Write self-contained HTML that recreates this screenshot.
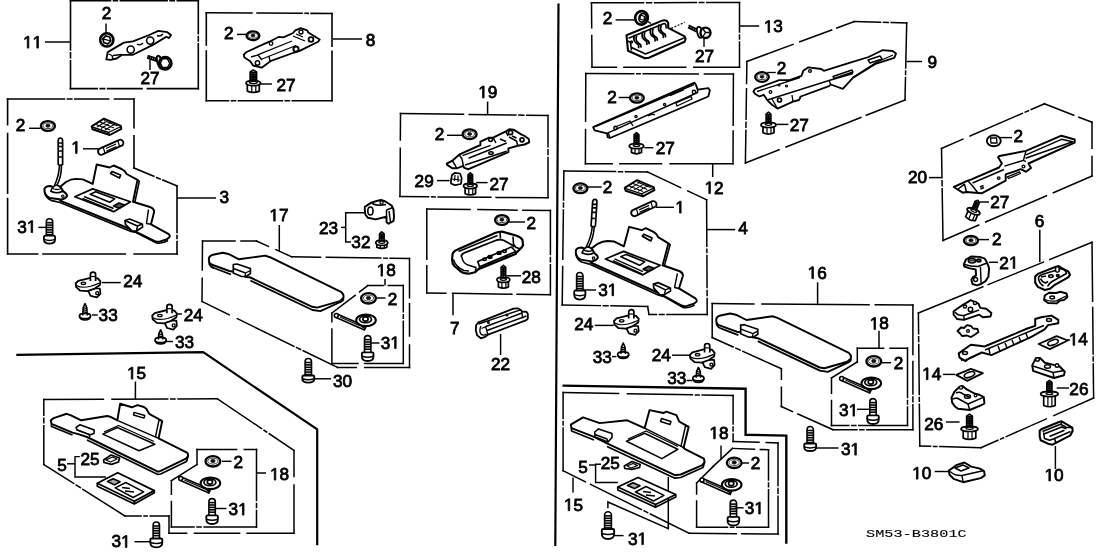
<!DOCTYPE html><html><head><meta charset="utf-8"><style>html,body{margin:0;padding:0;background:#fff;overflow:hidden;-webkit-font-smoothing:antialiased}svg{display:block}svg{will-change:transform}text{font-family:"Liberation Sans",sans-serif;font-size:17.2px;font-weight:normal;fill:#000;stroke:#000;stroke-width:0.8px}.g1{fill:#000;stroke:#000;stroke-width:95.256}</style></head><body>
<svg width="1108" height="553" viewBox="0 0 1108 553">
<rect width="1108" height="553" fill="#fff"/>
<g fill="none" stroke="#000" stroke-linejoin="miter" stroke-linecap="butt">
<path d="M558.5,3.5 L555.3,546.0" stroke-width="2.2"/>
<path d="M70.5,0.8 L198.3,0.8" stroke-width="1.6" stroke-linecap="square" stroke-dasharray="40.0 3.0 3.9 3.0 46.7 3.0 4.2 3.0 26.0 0.01 1000"/>
<path d="M198.3,0.8 L198.3,88.6" stroke-width="1.6" stroke-linecap="square" stroke-dasharray="32.8 3.0 4.3 3.0 49.7 0.01 1000"/>
<path d="M198.3,88.6 L70.5,88.6" stroke-width="1.6" stroke-linecap="square" stroke-dasharray="50.9 5.4 34.4 3.0 4.4 3.0 31.8 0.01 1000"/>
<path d="M70.5,88.6 L70.5,0.8" stroke-width="1.6" stroke-linecap="square" stroke-dasharray="27.8 3.0 4.9 3.0 54.1 0.01 1000"/>
<path d="M45.0,42.0 L70.5,42.0" stroke-width="1.5"/>
<path d="M106.0,23.5 L106.0,33.0" stroke-width="1.45"/>
<path d="M150.0,60.0 L150.0,70.0" stroke-width="1.45"/>
<path d="M206.3,12.7 L332.0,13.5" stroke-width="1.6" stroke-linecap="square" stroke-dasharray="45.7 5.1 45.0 3.0 3.1 3.0 25.9 0.01 1000"/>
<path d="M332.0,13.5 L332.0,100.8" stroke-width="1.6" stroke-linecap="square" stroke-dasharray="32.8 5.1 54.3 0.01 1000"/>
<path d="M332.0,100.8 L206.3,100.8" stroke-width="1.6" stroke-linecap="square" stroke-dasharray="39.7 3.0 4.0 3.0 43.8 3.0 4.0 3.0 27.2 0.01 1000"/>
<path d="M206.3,100.8 L206.3,12.7" stroke-width="1.6" stroke-linecap="square" stroke-dasharray="49.8 6.1 37.2 0.01 1000"/>
<path d="M333.0,39.0 L362.0,39.0" stroke-width="1.5"/>
<path d="M237.0,34.4 L248.0,34.4" stroke-width="1.45"/>
<path d="M260.5,84.0 L272.0,84.0" stroke-width="1.45"/>
<path d="M7.6,99.0 L134.0,99.0" stroke-width="1.6" stroke-linecap="square" stroke-dasharray="56.8 3.0 4.4 3.0 33.8 5.9 24.4 0.01 1000"/>
<path d="M134.0,99.0 L134.0,168.0" stroke-width="1.6" stroke-linecap="square" stroke-dasharray="28.7 8.1 37.3 0.01 1000"/>
<path d="M134.0,168.0 L177.0,186.0" stroke-width="1.6" stroke-linecap="square" stroke-dasharray="21.5 3.0 3.8 3.0 20.4 0.01 1000"/>
<path d="M177.0,186.0 L177.0,254.0" stroke-width="1.6" stroke-linecap="square" stroke-dasharray="46.5 3.0 3.0 3.0 17.5 0.01 1000"/>
<path d="M177.0,254.0 L7.6,254.0" stroke-width="1.6" stroke-linecap="square" stroke-dasharray="42.8 8.9 82.3 5.3 35.1 0.01 1000"/>
<path d="M7.6,254.0 L7.6,99.0" stroke-width="1.6" stroke-linecap="square" stroke-dasharray="55.4 5.3 59.8 8.9 30.6 0.01 1000"/>
<path d="M177.0,198.0 L216.0,198.0" stroke-width="1.5"/>
<path d="M29.0,128.3 L40.7,128.3" stroke-width="1.45"/>
<path d="M83.0,148.8 L100.0,148.8" stroke-width="1.45"/>
<path d="M38.3,227.4 L46.2,227.4" stroke-width="1.45"/>
<path d="M202.5,241.0 L256.4,241.0" stroke-width="1.5" stroke-linecap="square" stroke-dasharray="32.5 6.0 20.4 0.01 1000"/>
<path d="M256.4,241.0 L291.7,256.8" stroke-width="1.5" stroke-linecap="square" stroke-dasharray="13.2 8.2 22.3 0.01 1000"/>
<path d="M291.7,256.8 L409.5,258.5" stroke-width="1.5" stroke-linecap="square" stroke-dasharray="28.8 5.8 54.5 3.0 3.3 3.0 24.5 0.01 1000"/>
<path d="M409.5,258.5 L409.5,367.4" stroke-width="1.5" stroke-linecap="square" stroke-dasharray="39.3 5.9 32.3 8.9 27.5 0.01 1000"/>
<path d="M409.5,367.4 L337.4,367.4" stroke-width="1.5" stroke-linecap="square" stroke-dasharray="44.8 8.5 23.8 0.01 1000"/>
<path d="M337.4,367.4 L202.0,301.5" stroke-width="1.5" stroke-linecap="square" stroke-dasharray="38.0 3.0 4.3 3.0 63.0 9.0 35.3 0.01 1000"/>
<path d="M202.0,301.5 L202.5,241.0" stroke-width="1.5" stroke-linecap="square" stroke-dasharray="23.3 8.1 34.1 0.01 1000"/>
<path d="M279.3,225.0 L279.3,251.0" stroke-width="1.5"/>
<path d="M367.8,285.6 L403.3,285.6" stroke-width="1.5" stroke-linecap="square" stroke-dasharray="15.3 5.3 19.9 0.01 1000"/>
<path d="M403.3,285.6 L403.3,363.6" stroke-width="1.5" stroke-linecap="square" stroke-dasharray="26.2 3.0 3.5 3.0 47.3 0.01 1000"/>
<path d="M403.3,363.6 L331.9,363.6" stroke-width="1.5" stroke-linecap="square" stroke-dasharray="38.6 6.8 31.0 0.01 1000"/>
<path d="M331.9,363.6 L331.9,313.0" stroke-width="1.5" stroke-linecap="square" stroke-dasharray="34.6 7.3 13.7 0.01 1000"/>
<path d="M331.9,313.0 L367.8,285.6" stroke-width="1.5" stroke-linecap="square" stroke-dasharray="29.2 5.6 15.3 0.01 1000"/>
<path d="M385.0,279.0 L385.0,285.6" stroke-width="1.5"/>
<path d="M376.7,298.0 L385.5,298.0" stroke-width="1.45"/>
<path d="M371.0,343.0 L379.5,343.0" stroke-width="1.45"/>
<path d="M314.6,378.8 L331.0,378.8" stroke-width="1.45"/>
<path d="M341.0,227.4 L345.7,227.4" stroke-width="1.45"/>
<path d="M364.4,212.8 L345.7,212.8 L345.7,242.0 L351.0,242.0" stroke-width="1.5"/>
<path d="M400.5,113.5 L548.0,115.5" stroke-width="1.5" stroke-linecap="square" stroke-dasharray="63.0 5.8 46.6 3.0 4.9 3.0 26.3 0.01 1000"/>
<path d="M548.0,115.5 L548.0,197.8" stroke-width="1.5" stroke-linecap="square" stroke-dasharray="31.2 3.0 4.8 3.0 45.4 0.01 1000"/>
<path d="M548.0,197.8 L400.0,196.6" stroke-width="1.5" stroke-linecap="square" stroke-dasharray="51.9 5.2 52.8 3.0 3.5 3.0 33.7 0.01 1000"/>
<path d="M400.0,196.6 L400.5,113.5" stroke-width="1.5" stroke-linecap="square" stroke-dasharray="48.4 8.3 31.5 0.01 1000"/>
<path d="M487.6,101.6 L487.6,114.3" stroke-width="1.5"/>
<path d="M447.0,135.3 L462.0,135.3" stroke-width="1.45"/>
<path d="M437.0,180.6 L449.6,180.6" stroke-width="1.45"/>
<path d="M476.0,182.6 L487.6,182.6" stroke-width="1.45"/>
<path d="M426.8,208.9 L550.4,210.6" stroke-width="1.5" stroke-linecap="square" stroke-dasharray="43.2 7.9 39.1 5.9 32.5 0.01 1000"/>
<path d="M550.4,210.6 L550.4,294.7" stroke-width="1.5" stroke-linecap="square" stroke-dasharray="44.0 3.0 4.2 3.0 34.8 0.01 1000"/>
<path d="M550.4,294.7 L426.8,293.0" stroke-width="1.5" stroke-linecap="square" stroke-dasharray="33.4 5.1 59.4 6.8 24.0 0.01 1000"/>
<path d="M426.8,293.0 L426.8,208.9" stroke-width="1.5" stroke-linecap="square" stroke-dasharray="27.3 6.5 55.4 0.01 1000"/>
<path d="M453.0,294.0 L453.0,315.3" stroke-width="1.5"/>
<path d="M508.0,222.0 L525.0,222.0" stroke-width="1.45"/>
<path d="M506.4,275.8 L521.0,275.8" stroke-width="1.45"/>
<path d="M500.6,334.0 L500.6,355.0" stroke-width="1.45"/>
<path d="M101.8,282.6 L120.8,282.6" stroke-width="1.45"/>
<path d="M92.0,315.0 L97.7,315.0" stroke-width="1.45"/>
<path d="M176.0,314.0 L182.0,314.0" stroke-width="1.45"/>
<path d="M166.0,341.5 L173.0,341.5" stroke-width="1.45"/>
<path d="M16.3,354.9 L203.2,352.2 L317.2,429.4 L317.2,545.2" stroke-width="2.2"/>
<path d="M135.4,381.6 L135.4,399.0" stroke-width="1.5"/>
<path d="M43.8,399.4 L217.4,398.8" stroke-width="1.5" stroke-linecap="square" stroke-dasharray="59.6 8.6 55.7 3.0 4.3 3.0 44.5 0.01 1000"/>
<path d="M217.4,398.8 L294.0,450.4" stroke-width="1.5" stroke-linecap="square" stroke-dasharray="53.2 3.0 3.3 3.0 34.8 0.01 1000"/>
<path d="M294.0,450.4 L294.0,533.3" stroke-width="1.5" stroke-linecap="square" stroke-dasharray="26.0 8.6 53.2 0.01 1000"/>
<path d="M294.0,533.3 L169.0,533.3" stroke-width="1.5" stroke-linecap="square" stroke-dasharray="46.9 7.5 45.1 7.9 22.5 0.01 1000"/>
<path d="M169.0,533.3 L169.0,516.0" stroke-width="1.5" stroke-linecap="square"/>
<path d="M169.0,516.0 L125.0,516.0" stroke-width="1.5" stroke-linecap="square" stroke-dasharray="18.8 3.0 3.2 3.0 21.0 0.01 1000"/>
<path d="M125.0,516.0 L43.8,464.5" stroke-width="1.5" stroke-linecap="square" stroke-dasharray="49.9 3.0 4.8 3.0 40.5 0.01 1000"/>
<path d="M43.8,464.5 L43.8,399.4" stroke-width="1.5" stroke-linecap="square" stroke-dasharray="38.7 3.0 4.6 3.0 20.8 0.01 1000"/>
<path d="M197.0,449.4 L256.5,449.4" stroke-width="1.5" stroke-linecap="square" stroke-dasharray="39.6 7.7 17.1 0.01 1000"/>
<path d="M256.5,449.4 L256.5,527.0" stroke-width="1.5" stroke-linecap="square" stroke-dasharray="51.2 3.0 3.8 3.0 21.5 0.01 1000"/>
<path d="M256.5,527.0 L171.4,527.0" stroke-width="1.5" stroke-linecap="square" stroke-dasharray="52.4 3.0 4.1 3.0 27.5 0.01 1000"/>
<path d="M171.4,527.0 L171.4,480.7" stroke-width="1.5" stroke-linecap="square" stroke-dasharray="25.5 7.3 18.5 0.01 1000"/>
<path d="M171.4,480.7 L197.0,464.5" stroke-width="1.5" stroke-linecap="square"/>
<path d="M197.0,464.5 L197.0,449.4" stroke-width="1.5" stroke-linecap="square"/>
<path d="M256.5,473.0 L266.0,473.0" stroke-width="1.5"/>
<path d="M222.0,461.3 L231.5,461.3" stroke-width="1.45"/>
<path d="M216.0,508.5 L226.5,508.5" stroke-width="1.45"/>
<path d="M67.0,463.8 L75.0,463.8" stroke-width="1.45"/>
<path d="M79.8,456.6 L75.0,456.6 L75.0,477.0 L106.0,477.0" stroke-width="1.45"/>
<path d="M134.5,541.7 L150.0,541.7" stroke-width="1.45"/>
<path d="M591.5,2.8 L739.5,2.4" stroke-width="1.5" stroke-linecap="square" stroke-dasharray="52.1 3.0 5.0 3.0 41.7 3.0 4.5 3.0 37.8 0.01 1000"/>
<path d="M739.5,2.4 L739.5,67.2" stroke-width="1.5" stroke-linecap="square" stroke-dasharray="29.5 3.0 4.2 3.0 30.1 0.01 1000"/>
<path d="M739.5,67.2 L592.0,67.2" stroke-width="1.5" stroke-linecap="square" stroke-dasharray="45.7 8.0 61.9 7.4 29.5 0.01 1000"/>
<path d="M592.0,67.2 L591.5,2.8" stroke-width="1.5" stroke-linecap="square" stroke-dasharray="31.7 7.8 29.9 0.01 1000"/>
<path d="M739.5,26.0 L759.2,26.0" stroke-width="1.5"/>
<path d="M615.6,19.9 L634.5,19.9" stroke-width="1.45"/>
<path d="M704.0,38.8 L704.0,46.7" stroke-width="1.45"/>
<path d="M585.8,73.5 L733.4,74.0" stroke-width="1.5" stroke-linecap="square" stroke-dasharray="47.9 3.0 3.5 3.0 55.0 6.2 34.0 0.01 1000"/>
<path d="M733.4,74.0 L733.0,163.7" stroke-width="1.5" stroke-linecap="square" stroke-dasharray="51.2 5.7 37.8 0.01 1000"/>
<path d="M733.0,163.7 L585.4,163.7" stroke-width="1.5" stroke-linecap="square" stroke-dasharray="62.9 8.6 41.6 7.7 31.9 0.01 1000"/>
<path d="M585.4,163.7 L585.8,73.5" stroke-width="1.5" stroke-linecap="square" stroke-dasharray="34.2 8.2 52.8 0.01 1000"/>
<path d="M712.7,163.7 L712.7,177.0" stroke-width="1.5"/>
<path d="M618.6,97.5 L630.5,97.5" stroke-width="1.45"/>
<path d="M644.4,147.7 L653.4,147.7" stroke-width="1.45"/>
<path d="M746.9,61.5 L854.4,21.5" stroke-width="1.5" stroke-linecap="square" stroke-dasharray="49.2 7.3 33.9 5.5 23.8 0.01 1000"/>
<path d="M854.4,21.5 L906.7,23.0" stroke-width="1.5" stroke-linecap="square" stroke-dasharray="26.1 3.0 4.7 3.0 20.5 0.01 1000"/>
<path d="M906.7,23.0 L905.0,100.0" stroke-width="1.5" stroke-linecap="square" stroke-dasharray="45.0 3.0 3.6 3.0 27.4 0.01 1000"/>
<path d="M905.0,100.0 L745.4,163.0" stroke-width="1.5" stroke-linecap="square" stroke-dasharray="41.6 5.9 80.4 7.5 41.2 0.01 1000"/>
<path d="M745.4,163.0 L746.9,61.5" stroke-width="1.5" stroke-linecap="square" stroke-dasharray="32.8 3.0 5.0 3.0 30.5 5.3 27.0 0.01 1000"/>
<path d="M906.7,61.5 L922.0,61.5" stroke-width="1.5"/>
<path d="M776.0,124.4 L788.4,124.4" stroke-width="1.45"/>
<path d="M941.5,148.4 L1044.4,103.8" stroke-width="1.5" stroke-linecap="square" stroke-dasharray="23.3 7.8 57.1 3.0 3.6 3.0 19.2 0.01 1000"/>
<path d="M1044.4,103.8 L1092.0,122.3" stroke-width="1.5" stroke-linecap="square" stroke-dasharray="31.5 5.5 19.0 0.01 1000"/>
<path d="M1092.0,122.3 L1092.0,176.0" stroke-width="1.5" stroke-linecap="square" stroke-dasharray="25.9 8.3 24.5 0.01 1000"/>
<path d="M1092.0,176.0 L943.0,240.5" stroke-width="1.5" stroke-linecap="square" stroke-dasharray="42.1 7.5 66.3 7.5 43.9 0.01 1000"/>
<path d="M943.0,240.5 L941.5,148.4" stroke-width="1.5" stroke-linecap="square" stroke-dasharray="51.8 3.0 4.9 3.0 34.4 0.01 1000"/>
<path d="M929.0,177.6 L941.5,177.6" stroke-width="1.5"/>
<path d="M1000.0,137.6 L1012.0,137.6" stroke-width="1.45"/>
<path d="M978.0,202.0 L989.0,202.0" stroke-width="1.45"/>
<path d="M978.3,239.6 L989.0,239.6" stroke-width="1.45"/>
<path d="M918.4,313.0 L1092.0,242.3" stroke-width="1.5" stroke-linecap="square" stroke-dasharray="69.6 5.7 59.7 6.9 50.6 0.01 1000"/>
<path d="M1092.0,242.3 L1093.6,398.0" stroke-width="1.5" stroke-linecap="square" stroke-dasharray="58.9 6.4 46.5 3.0 4.0 3.0 38.9 0.01 1000"/>
<path d="M1093.6,398.0 L981.0,447.7" stroke-width="1.5" stroke-linecap="square" stroke-dasharray="43.5 8.2 43.8 3.0 3.2 3.0 23.4 0.01 1000"/>
<path d="M981.0,447.7 L919.8,446.0" stroke-width="1.5" stroke-linecap="square" stroke-dasharray="41.2 3.0 3.3 3.0 15.8 0.01 1000"/>
<path d="M919.8,446.0 L918.4,313.0" stroke-width="1.5" stroke-linecap="square" stroke-dasharray="41.7 3.0 3.8 3.0 50.0 3.0 4.8 3.0 25.8 0.01 1000"/>
<path d="M1039.8,229.8 L1039.8,262.0" stroke-width="1.5"/>
<path d="M989.0,262.3 L998.0,262.3" stroke-width="1.45"/>
<path d="M1067.0,340.0 L1070.0,340.0" stroke-width="1.45"/>
<path d="M943.0,374.4 L955.0,374.4" stroke-width="1.45"/>
<path d="M1056.7,388.0 L1069.0,388.0" stroke-width="1.45"/>
<path d="M946.0,422.0 L959.5,422.0" stroke-width="1.45"/>
<path d="M934.7,471.5 L948.0,471.5" stroke-width="1.45"/>
<path d="M1055.4,446.0 L1055.4,469.0" stroke-width="1.45"/>
<path d="M563.9,171.0 L647.4,172.0" stroke-width="1.5" stroke-linecap="square" stroke-dasharray="51.7 3.0 3.9 3.0 26.9 0.01 1000"/>
<path d="M647.4,172.0 L706.6,199.8" stroke-width="1.5" stroke-linecap="square" stroke-dasharray="36.7 7.9 25.9 0.01 1000"/>
<path d="M706.6,199.8 L707.2,314.5" stroke-width="1.5" stroke-linecap="square" stroke-dasharray="46.4 3.0 3.4 3.0 31.8 3.0 5.0 3.0 21.1 0.01 1000"/>
<path d="M707.2,314.5 L649.0,314.5" stroke-width="1.5" stroke-linecap="square" stroke-dasharray="40.2 3.0 4.6 3.0 12.4 0.01 1000"/>
<path d="M649.0,314.5 L647.6,306.4" stroke-width="1.5" stroke-linecap="square"/>
<path d="M647.6,306.4 L562.2,305.0" stroke-width="1.5" stroke-linecap="square" stroke-dasharray="36.6 3.0 4.7 3.0 43.1 0.01 1000"/>
<path d="M562.2,305.0 L563.9,171.0" stroke-width="1.5" stroke-linecap="square" stroke-dasharray="38.5 7.2 49.2 3.0 4.0 3.0 34.1 0.01 1000"/>
<path d="M706.6,229.6 L735.2,229.6" stroke-width="1.5"/>
<path d="M587.7,187.0 L601.7,187.0" stroke-width="1.45"/>
<path d="M656.0,207.3 L674.0,207.3" stroke-width="1.45"/>
<path d="M583.0,290.0 L596.0,290.0" stroke-width="1.45"/>
<path d="M594.7,325.4 L613.7,325.4" stroke-width="1.45"/>
<path d="M612.0,356.6 L616.4,356.6" stroke-width="1.45"/>
<path d="M672.0,355.2 L689.6,355.2" stroke-width="1.45"/>
<path d="M686.5,380.5 L692.5,380.5" stroke-width="1.45"/>
<path d="M712.2,303.6 L912.9,305.0" stroke-width="1.5" stroke-linecap="square" stroke-dasharray="41.6 8.2 107.0 6.3 42.6 0.01 1000"/>
<path d="M912.9,305.0 L912.9,429.7" stroke-width="1.5" stroke-linecap="square" stroke-dasharray="49.5 7.1 32.5 3.0 4.7 3.0 30.0 0.01 1000"/>
<path d="M912.9,429.7 L833.0,429.7" stroke-width="1.5" stroke-linecap="square" stroke-dasharray="46.0 3.0 4.0 3.0 28.9 0.01 1000"/>
<path d="M833.0,429.7 L781.4,406.6" stroke-width="1.5" stroke-linecap="square" stroke-dasharray="38.4 5.9 17.2 0.01 1000"/>
<path d="M781.4,406.6 L781.4,368.7" stroke-width="1.5" stroke-linecap="square" stroke-dasharray="19.4 7.9 15.6 0.01 1000"/>
<path d="M781.4,368.7 L712.2,337.5" stroke-width="1.5" stroke-linecap="square" stroke-dasharray="42.2 3.0 4.7 3.0 28.1 0.01 1000"/>
<path d="M712.2,337.5 L712.2,303.6" stroke-width="1.5" stroke-linecap="square"/>
<path d="M817.6,282.3 L817.6,303.8" stroke-width="1.5"/>
<path d="M857.3,348.3 L907.5,348.3" stroke-width="1.5" stroke-linecap="square" stroke-dasharray="26.3 6.5 22.4 0.01 1000"/>
<path d="M907.5,348.3 L907.5,425.6" stroke-width="1.5" stroke-linecap="square" stroke-dasharray="49.3 3.0 3.4 3.0 23.6 0.01 1000"/>
<path d="M907.5,425.6 L831.5,425.6" stroke-width="1.5" stroke-linecap="square" stroke-dasharray="48.7 3.0 4.0 3.0 22.3 0.01 1000"/>
<path d="M831.5,425.6 L831.5,378.0" stroke-width="1.5" stroke-linecap="square" stroke-dasharray="25.2 7.1 20.3 0.01 1000"/>
<path d="M831.5,378.0 L857.3,361.9" stroke-width="1.5" stroke-linecap="square"/>
<path d="M857.3,361.9 L857.3,348.3" stroke-width="1.5" stroke-linecap="square"/>
<path d="M879.0,330.7 L879.0,348.3" stroke-width="1.5"/>
<path d="M881.7,362.7 L891.2,362.7" stroke-width="1.45"/>
<path d="M857.0,409.3 L869.5,409.3" stroke-width="1.45"/>
<path d="M816.0,448.0 L838.5,448.0" stroke-width="1.45"/>
<path d="M562.5,385.6 L745.6,388.8 L745.6,434.8 L786.3,435.6 L786.3,543.8" stroke-width="2.4"/>
<path d="M563.1,392.5 L733.1,395.6" stroke-width="1.5" stroke-linecap="square" stroke-dasharray="55.4 8.9 65.0 3.0 3.8 3.0 35.9 0.01 1000"/>
<path d="M733.1,395.6 L733.1,441.5" stroke-width="1.5" stroke-linecap="square" stroke-dasharray="28.5 3.0 4.0 3.0 12.4 0.01 1000"/>
<path d="M733.1,441.5 L778.0,442.9" stroke-width="1.5" stroke-linecap="square" stroke-dasharray="25.9 7.2 16.9 0.01 1000"/>
<path d="M778.0,442.9 L778.0,534.1" stroke-width="1.5" stroke-linecap="square" stroke-dasharray="42.5 3.0 4.8 3.0 42.9 0.01 1000"/>
<path d="M778.0,534.1 L689.2,533.3" stroke-width="1.5" stroke-linecap="square" stroke-dasharray="36.2 5.5 52.1 0.01 1000"/>
<path d="M689.2,533.3 L563.1,470.7" stroke-width="1.5" stroke-linecap="square" stroke-dasharray="43.4 3.0 4.0 3.0 56.7 5.8 30.0 0.01 1000"/>
<path d="M563.1,470.7 L563.1,392.5" stroke-width="1.5" stroke-linecap="square" stroke-dasharray="42.8 3.0 3.3 3.0 31.2 0.01 1000"/>
<path d="M573.0,477.5 L573.0,492.4" stroke-width="1.45"/>
<path d="M732.5,448.4 L768.5,449.8" stroke-width="1.5" stroke-linecap="square" stroke-dasharray="22.0 5.8 13.2 0.01 1000"/>
<path d="M768.5,449.8 L768.5,527.2" stroke-width="1.5" stroke-linecap="square" stroke-dasharray="30.3 3.0 3.6 3.0 42.5 0.01 1000"/>
<path d="M768.5,527.2 L696.6,527.2" stroke-width="1.5" stroke-linecap="square" stroke-dasharray="31.8 3.0 3.2 3.0 35.9 0.01 1000"/>
<path d="M696.6,527.2 L696.6,483.0" stroke-width="1.5" stroke-linecap="square" stroke-dasharray="26.2 7.0 16.0 0.01 1000"/>
<path d="M696.6,483.0 L713.2,466.4" stroke-width="1.5" stroke-linecap="square"/>
<path d="M713.2,466.4 L732.5,448.4" stroke-width="1.5" stroke-linecap="square"/>
<path d="M721.0,445.6 L721.0,459.4" stroke-width="1.45"/>
<path d="M740.8,463.0 L749.0,463.0" stroke-width="1.45"/>
<path d="M735.5,507.8 L743.6,507.8" stroke-width="1.45"/>
<path d="M589.0,465.0 L595.6,465.0" stroke-width="1.45"/>
<path d="M601.0,464.3 L595.6,464.3 L595.6,482.5 L617.8,482.5" stroke-width="1.45"/>
<path d="M614.5,535.6 L623.6,535.6" stroke-width="1.45"/>
<path d="M607.9,508.3 L607.9,502.0 L668.3,528.6 L668.3,477.0" stroke-width="1.5"/>
</g>
<g fill="none" stroke="#000" stroke-width="1.2" stroke-linejoin="round">
<circle cx="106.8" cy="39.9" r="6.6" fill="#fff" stroke-width="2.56"/>
<path d="M110.8,41.0 L107.9,43.9 L103.9,42.8 L102.8,38.8 L105.7,35.9 L109.7,37.0 Z" stroke-width="1.71"/>
<path d="M110.8,41.0 L102.8,38.8" stroke-width="1.22"/>
<path d="M106.3,59.4 L107.7,52.1 L123.9,42.6 L133.0,41.3 L149.2,35.0 L158.3,30.9 L167.3,32.2 L171.0,35.0 L169.1,38.1 L166.4,36.8 L152.9,44.9 L133.0,54.8 L122.1,54.8 L116.7,58.5 L110.4,59.8 Z" stroke-width="1.83" fill="#fff"/>
<path d="M108.5,54 L112,55.5 L113,59 M113,55.5 L122,54.5" stroke-width="1.34"/>
<circle cx="130.7" cy="49.6" r="3.6" stroke-width="1.59"/><circle cx="150.2" cy="40.6" r="3.6" stroke-width="1.59"/>
<path d="M137,44 Q140,46 143,43 M157,35.5 Q160,37 163,34" stroke-width="1.46"/>
<path d="M148.3,55.8 L158.5,59 L157.5,61.6 L147.8,58.3 Z" stroke-width="1.59" fill="#fff"/>
<path d="M150,56.2 L149.3,58.8 M152,56.9 L151.3,59.5 M154,57.5 L153.3,60.1 M156,58.2 L155.3,60.8" stroke-width="1.59"/>
<ellipse cx="159.8" cy="62.2" rx="2.4" ry="6.6" transform="rotate(-18 159.8 62.2)" fill="#fff" stroke-width="1.95"/>
<circle cx="165.2" cy="63.2" r="6.3" fill="#fff" stroke-width="2.44"/>
<path d="M162.5,58.5 L167.5,58.8 L169.8,63.3 L167.5,67.6 L162.5,67.6 L160.3,63.2 Z" stroke-width="1.46"/>
<ellipse cx="253.0" cy="35.8" rx="6.4" ry="4.4" fill="#fff" stroke-width="2.32"/>
<ellipse cx="253.0" cy="35.6" rx="4.5" ry="2.6" stroke-width="0.98" stroke="#444"/>
<ellipse cx="253.0" cy="35.5" rx="1.9" ry="1.4" fill="#111" stroke-width="0.61"/>
<path d="M243.8,54.7 L246.5,52.0 L269.3,41.7 L279.0,36.8 L283.4,37.4 L293.1,33.0 L295.3,30.3 L300.7,28.1 L307.2,30.3 L308.3,32.5 L319.7,39.5 L318.1,41.7 L299.7,50.9 L294.2,52.5 L270.4,61.2 L261.7,67.7 L253.0,65.5 L250.3,61.2 L244.3,57.4 Z" stroke-width="1.83" fill="#fff"/>
<path d="M258.4,54.7 L292,41 M262,59 L296,45.5 M251,57 L258,55 L262,60 M270,61 L269,56" stroke-width="1.34"/>
<circle cx="257.5" cy="63" r="2.2" stroke-width="1.46"/><circle cx="271" cy="43.5" r="1.8" stroke-width="1.34"/><circle cx="301" cy="32" r="2" stroke-width="1.34"/>
<circle cx="296" cy="49" r="2.6" stroke-width="1.95"/><circle cx="311" cy="39.5" r="2.4" stroke-width="1.83"/>
<path d="M293,36 L305,41 M296,34 L303,37" stroke-width="1.34"/>
<path d="M250.1,80.5 V72.0 L253.3,70.0 L256.6,72.0 V80.5" stroke-width="1.59" fill="#fff"/>
<path d="M250.1,72.5 H256.6" stroke-width="1.83"/>
<path d="M250.1,74.3 H256.6" stroke-width="1.83"/>
<path d="M250.1,76.1 H256.6" stroke-width="1.83"/>
<path d="M250.1,77.9 H256.6" stroke-width="1.83"/>
<path d="M250.1,79.7 H256.6" stroke-width="1.83"/>
<path d="M253.3,72.0 V80.5" stroke-width="1.22"/>
<path d="M247.3,83.1 V91.1 Q253.3,93.6 259.3,91.1 V83.1" stroke-width="1.71" fill="#fff"/>
<path d="M251.8,84.1 V92.1 M255.8,84.1 V91.8" stroke-width="1.22"/>
<ellipse cx="253.3" cy="83.1" rx="7.3" ry="2.6" fill="#fff" stroke-width="1.71"/>
<ellipse cx="253.3" cy="82.5" rx="4.0" ry="1.1" stroke-width="1.22"/>
<ellipse cx="47.9" cy="126.0" rx="7.0" ry="4.9" fill="#fff" stroke-width="2.32"/>
<ellipse cx="47.9" cy="125.8" rx="4.9" ry="2.8" stroke-width="0.98" stroke="#444"/>
<ellipse cx="47.9" cy="125.7" rx="2.1" ry="1.6" fill="#111" stroke-width="0.61"/>
<path d="M91.6,126.4 L104.0,118.7 L120.8,125.9 L121.3,128.8 L109.8,135.0 L92.5,129.3 Z" stroke-width="1.95" fill="#fff"/>
<path d="M92,127 L108.5,132.5 L121,126.5 M108.5,132.5 L109.8,135" stroke-width="1.34"/>
<path d="M96,124.5 L110,130 M100,122 L114,128 M104,120.5 L117.5,126 M97,127 L107,121 M101,128.5 L111,122.5 M105,130 L115,124" stroke-width="1.10"/>
<path d="M100.2,148.4 L119.4,139.8 A3.3,3.3 0 0 1 122.7,145.1 L102.1,154.7 A3.3,3.3 0 0 1 100.2,148.4 Z" stroke-width="1.83" fill="#fff"/>
<path d="M103.3,147.3 L105,153.5 M118,141 L119.5,146.5 M106,148.5 L116,144 M106.5,151 L116.5,146.5" stroke-width="1.22"/>
<g id="visA"><path d="M59.9,186.9 L66,182 Q71,179 75.8,178.9 L82.8,179.4 L92.7,183.9 L96.7,164.5 L109.7,167.5 L113.6,165.5 L121.6,169 L124.6,171 L126.6,174 L137.5,179.9 L133,201.8 L150.7,207.3 Q154.5,209 154.1,212.1 L151,224.3 L168.3,233.8 Q170.5,236 169.5,237 L167,239.2 L158.8,241.9 L154.8,241.2 L137.1,232.4 L131.4,229.5 L60,200.6 L66.9,196 Z" fill="#fff" stroke-width="1.95"/><path d="M60,202.5 L131,231.5 L136,232.5 L156.5,243 Q162,244 168,240.5" stroke-width="1.59"/><path d="M137.5,179.9 L139.3,181.3 L134.8,202.3" stroke-width="1.59"/><path d="M74.8,196.8 L92.7,188.9 L130.5,201.8 L113.6,211.7 Z" stroke-width="1.71"/><path d="M90.2,194.3 L95.7,191.8 L114.6,198.8 L109.7,202.3 Z" stroke-width="1.59"/><path d="M84,196.5 L113.6,208.5 M82.5,198.3 L112.5,210.7" stroke-width="1.46"/><path d="M113.6,206 L119,203 L124.6,205 L119,208.2 Z" stroke-width="1.71" fill="#555"/><path d="M110.6,173.4 L112,171.5 L120.6,175 L119.5,178 Z" stroke-width="1.71"/><path d="M124.9,220.5 L129.5,219 L142.3,224 L142.6,227 L136.5,231 L132,230.8 L125.6,224.5 Z" fill="#fff" stroke-width="1.71"/><path d="M124.9,220.5 L137.5,226 L142.3,224 M137.5,226 L136.5,231" stroke-width="1.46"/><path d="M148.5,209.5 L146.5,223.5 L151,224.3" stroke-width="1.46"/><path d="M44.5,188.5 Q46,186 50,186 L53,186.9 L63.9,191.8 Q67.5,194 66.9,196 Q66,198.8 60.9,199.5 L50,198 Q45.2,196 44.5,191.5 Z" fill="#fff" stroke-width="1.95"/><path d="M44.8,192 Q45.5,198 51,200.3 L60,202.5" stroke-width="1.71"/><circle cx="62.8" cy="196.2" r="1.2" stroke-width="1.22"/><path d="M50.8,191.2 Q51.5,187.5 54.5,185.8 Q57,184.6 58.8,186 Q62.3,187.8 62.6,191.2 Q57,194.3 50.8,191.2 Z" fill="#fff" stroke-width="1.71"/><path d="M52.5,188.5 Q57,190.5 61.5,188.5" stroke-width="1.34"/><path d="M58.2,165 L58.2,141 Q58.2,138 60.4,138 Q62.6,138 62.6,141 L62.6,165" fill="#fff" stroke-width="1.71"/><path d="M58.2,143 H62.6 M58.2,146.5 H62.6 M58.2,151 H62.6 M58.2,157 H62.6 M58.2,165 H62.6" stroke-width="1.71"/><path d="M59.5,165 Q59,176 54.5,185.5 M61.5,165 Q61.5,177 57,185.2" stroke-width="1.59"/></g>
<path d="M46.3,235.7 V221.9 A3.2,3.2 0 0 1 52.7,221.9 V235.7" stroke-width="1.59"/>
<path d="M46.3,222.7 H52.7" stroke-width="1.59"/>
<path d="M46.3,225.1 H52.7" stroke-width="1.59"/>
<path d="M46.3,227.5 H52.7" stroke-width="1.59"/>
<path d="M46.3,229.9 H52.7" stroke-width="1.59"/>
<path d="M46.3,232.3 H52.7" stroke-width="1.59"/>
<path d="M46.3,234.7 H52.7" stroke-width="1.59"/>
<path d="M43.9,236.9 Q43.9,235.7 45.4,235.7 H53.6 Q55.1,235.7 55.1,236.9 V239.3 Q55.1,243.6 49.5,243.6 Q43.9,243.6 43.9,239.3 Z" stroke-width="1.83" fill="#fff"/>
<path d="M44.2,239.3 Q49.5,241.5 54.8,239.3" stroke-width="1.46"/>
<ellipse cx="469.6" cy="134.2" rx="7.0" ry="4.8" fill="#fff" stroke-width="2.32"/>
<ellipse cx="469.6" cy="134.0" rx="4.9" ry="2.8" stroke-width="0.98" stroke="#444"/>
<ellipse cx="469.6" cy="133.9" rx="2.1" ry="1.5" fill="#111" stroke-width="0.61"/>
<path d="M446.8,163.7 L452.3,160.7 L459.1,154.7 L480.4,145.0 L480.4,141.6 L486.3,139.0 L488.9,137.7 L493.1,137.7 L505.9,131.4 L509.3,129.2 L513.5,129.7 L521.2,134.3 L524.6,136.0 L528.8,139.0 L529.2,142.4 L524.6,144.5 L517.8,145.8 L508.4,148.4 L508.4,152.2 L468.5,169.2 L464.2,167.9 L463.4,165.8 L456.6,168.3 L452.3,168.3 L447.2,164.9 Z" stroke-width="1.95" fill="#fff"/>
<path d="M462.5,155.6 L490.6,145.4 M468.5,158.3 L506.7,143 M465.1,165 L506.7,151.3 M459.1,154.7 L462,159 L463.4,165.8 M452.3,160.7 L455,165 L456.6,168.3 M493.1,137.7 L496,143 M517.8,145.8 L516.5,141 L509,137 M505.9,131.4 L508,136" stroke-width="1.46"/>
<circle cx="490.6" cy="139.6" r="1.9" stroke-width="1.59"/><ellipse cx="491" cy="153" rx="2.2" ry="1.3" stroke-width="1.46"/><circle cx="510.5" cy="132.6" r="2.1" stroke-width="1.71"/><circle cx="522" cy="139.8" r="2" stroke-width="1.71"/>
<path d="M500,139 L506,141.5 M512,136 L516.5,138" stroke-width="1.83"/>
<path d="M451,180 L452,175 L455,172.8 L460,173.5 L461.7,178 L461,184 L455,185.2 L451,183.5 Z" stroke-width="1.71" fill="#fff"/>
<path d="M455,175 L454.5,181 M458,175.5 L458,182 M451.5,179 L460.5,180" stroke-width="1.22"/>
<path d="M468.0,183.4 V174.8 L470.3,172.8 L472.6,174.8 V183.4" stroke-width="1.59" fill="#fff"/>
<path d="M468.0,175.3 H472.6" stroke-width="1.83"/>
<path d="M468.0,177.1 H472.6" stroke-width="1.83"/>
<path d="M468.0,178.9 H472.6" stroke-width="1.83"/>
<path d="M468.0,180.7 H472.6" stroke-width="1.83"/>
<path d="M468.0,182.5 H472.6" stroke-width="1.83"/>
<path d="M470.3,174.8 V183.4" stroke-width="1.22"/>
<path d="M465.1,186.0 V193.7 Q470.3,196.2 475.6,193.7 V186.0" stroke-width="1.71" fill="#fff"/>
<path d="M468.8,187.0 V194.7 M472.8,187.0 V194.4" stroke-width="1.22"/>
<ellipse cx="470.3" cy="186.0" rx="6.8" ry="2.6" fill="#fff" stroke-width="1.71"/>
<ellipse cx="470.3" cy="185.4" rx="3.1" ry="1.1" stroke-width="1.22"/>
<path d="M364.8,206.9 L371.3,202.6 L376.7,201.0 L381.0,199.9 L385.4,201.5 L391.9,205.8 L393.5,209.6 L394.0,216.7 L393.5,221.0 L388.6,223.7 L386.5,222.1 L386.5,216.7 L382.1,217.8 L375.6,219.4 L368.0,217.8 L365.3,214.5 L364.8,210.2 Z" stroke-width="1.95" fill="#fff"/>
<ellipse cx="370.4" cy="211" rx="2.6" ry="4" stroke-width="1.59"/>
<path d="M372,203.5 Q378,206.5 386,204.5 M386.5,210 L393,207.5 M386.5,210 L386.5,216.7 M389,211 L390.5,222" stroke-width="1.46"/>
<circle cx="381.5" cy="202.5" r="1.6" stroke-width="1.34"/>
<path d="M379.5,240.2 V233.9 L381.8,231.9 L384.1,233.9 V240.2" stroke-width="1.59" fill="#fff"/>
<path d="M379.5,234.4 H384.1" stroke-width="1.83"/>
<path d="M379.5,236.2 H384.1" stroke-width="1.83"/>
<path d="M379.5,238.0 H384.1" stroke-width="1.83"/>
<path d="M381.8,233.9 V240.2" stroke-width="1.22"/>
<path d="M376.8,242.8 V247.2 Q381.8,249.7 386.8,247.2 V242.8" stroke-width="1.71" fill="#fff"/>
<path d="M380.3,243.8 V248.2 M384.3,243.8 V247.9" stroke-width="1.22"/>
<ellipse cx="381.8" cy="242.8" rx="6.0" ry="2.6" fill="#fff" stroke-width="1.71"/>
<ellipse cx="381.8" cy="242.2" rx="3.1" ry="1.1" stroke-width="1.22"/>
<ellipse cx="501.9" cy="220.0" rx="6.8" ry="4.9" fill="#fff" stroke-width="2.32"/>
<ellipse cx="501.9" cy="219.8" rx="4.8" ry="2.8" stroke-width="0.98" stroke="#444"/>
<ellipse cx="501.9" cy="219.7" rx="2.0" ry="1.6" fill="#111" stroke-width="0.61"/>
<path d="M452.5,254.2 Q453.5,251 457,249.7 L495,233 Q498.5,231.5 502.2,231.6 L516.7,235.7 Q521.5,237.5 522.5,240 L523,245.2 Q522,247.5 520.3,248.8 L517.6,251.5 L514.9,254.2 L477.8,269.6 L475.1,272.3 L468.8,273.7 Q463,273.5 460.7,271.4 L454.3,266 Q452,263 452.1,259.6 Z" stroke-width="2.20" fill="#fff"/>
<path d="M458.5,251.5 L497.5,235.5" stroke-width="1.46"/>
<path d="M461.5,257 Q461,254 464.3,252.8 L496.8,240 Q500.5,239 504,240.5 L511.3,244.5 L514.5,247" stroke-width="1.83"/>
<path d="M500,232 L500.5,238.5 M513,236.5 L513.5,244 L516,247.5 L520.3,248.8" stroke-width="1.59"/>
<path d="M462,257 Q462.5,263 468,265 L476,267.5 L475.1,272.3 M453.5,259.5 Q455.5,267 464,270.5 L469,271" stroke-width="1.59"/>
<path d="M477.8,261.5 L511.3,247.0 L515.8,251.5 L479.6,266.9 Z" stroke-width="1.71"/>
<path d="M479.6,266.9 L478.5,270 M489,262.5 L488.5,266 M506,255 L506.5,258.5 M515.8,251.5 L516,255" stroke-width="1.46"/>
<ellipse cx="484.5" cy="259.3" rx="1.9" ry="1.2" stroke-width="1.46"/><ellipse cx="490" cy="257" rx="1.6" ry="1.1" stroke-width="2.20"/><ellipse cx="499.1" cy="252.9" rx="1.6" ry="1.1" stroke-width="2.20"/><ellipse cx="504.5" cy="251.3" rx="1.9" ry="1.2" stroke-width="1.46"/>
<path d="M501.1,277.2 V267.3 L503.4,265.3 L505.7,267.3 V277.2" stroke-width="1.59" fill="#fff"/>
<path d="M501.1,267.8 H505.7" stroke-width="1.83"/>
<path d="M501.1,269.6 H505.7" stroke-width="1.83"/>
<path d="M501.1,271.4 H505.7" stroke-width="1.83"/>
<path d="M501.1,273.2 H505.7" stroke-width="1.83"/>
<path d="M501.1,275.0 H505.7" stroke-width="1.83"/>
<path d="M503.4,267.3 V277.2" stroke-width="1.22"/>
<path d="M498.4,279.8 V286.9 Q503.4,289.4 508.4,286.9 V279.8" stroke-width="1.71" fill="#fff"/>
<path d="M501.9,280.8 V287.9 M505.9,280.8 V287.6" stroke-width="1.22"/>
<ellipse cx="503.4" cy="279.8" rx="6.5" ry="2.6" fill="#fff" stroke-width="1.71"/>
<ellipse cx="503.4" cy="279.2" rx="3.1" ry="1.1" stroke-width="1.22"/>
<path d="M476.1,325.2 L478.0,322.7 L513.4,308.6 L517.7,308.3 L520.6,309.7 L522.0,311.5 L526.4,311.9 L527.8,313.7 L527.8,318.7 L526.4,320.2 L488.1,334.6 L485.2,336.8 L480.8,338.3 L477.2,335.4 L475.8,330.3 Z" stroke-width="1.83" fill="#fff"/>
<path d="M478.5,324 L520.5,309.8 M481.5,328.5 L486,326.5 L522,313 M485.5,326.5 L488,334.6 M481,326 Q479,330 480.5,333.5 Q483,336.5 486.5,334 M522,311.5 L522.5,318.5 M487,330.5 L526.4,316" stroke-width="1.34"/>
<circle cx="488.5" cy="322.5" r="0.9" stroke-width="1.22"/><circle cx="507" cy="315" r="0.9" stroke-width="1.22"/>
<g id="visB"><path d="M208.9,259.5 Q208.5,256 213,254.8 L222.8,252.8 L228.5,254 L239,259.3 L265.1,255.6 L270,257.2 L341.5,292.2 Q344.5,295 343.2,298 L339.9,301.1 L317.1,307.6 L312.3,306.8 L250.4,277.5 L245.5,276.7 L234.2,271.8 L229.3,271 L211.4,264.5 Q208.5,262.5 208.9,259.5 Z" fill="#fff" stroke-width="1.95"/><path d="M209,262 L209.5,264.5 Q211,267.5 214,268 L231,274.5 M250.4,280.5 L312.5,310 L320.4,311.2 L341.5,301.5 Q344,300 343.2,298" stroke-width="1.83"/><path d="M233.3,264.5 L237,264 L250.4,268.5 L250.4,273.5 L246,276.5 L241.5,276.5 L233.3,273 Z" fill="#fff" stroke-width="1.71"/><path d="M233.5,268.5 L245.5,273 L250.4,270.5 M245.5,273 L245,277.5" stroke-width="1.34"/></g>
<ellipse cx="368.5" cy="298.3" rx="7.4" ry="5.2" fill="#fff" stroke-width="2.32"/>
<ellipse cx="368.5" cy="298.1" rx="5.2" ry="3.0" stroke-width="0.98" stroke="#444"/>
<ellipse cx="368.5" cy="298.0" rx="2.2" ry="1.7" fill="#111" stroke-width="0.61"/>
<path d="M336.5,313.8 L366.0,326.5 L364.5,330.0 L335.5,317.3 Z" stroke-width="1.71" fill="#fff"/>
<path d="M340.0,317.0 L360.0,325.8" stroke-width="1.22"/>
<circle cx="336.3" cy="315.5" r="2" fill="#fff" stroke-width="1.59"/>
<ellipse cx="366.0" cy="320.3" rx="9.8" ry="5.8" fill="#fff" stroke-width="2.07"/>
<ellipse cx="365.5" cy="319.3" rx="6" ry="3.4" stroke-width="1.71"/>
<ellipse cx="365.5" cy="319.0" rx="2.6" ry="2.2" stroke-width="1.71"/>
<path d="M356.5,322.5 L365.0,328.5" stroke-width="1.59"/>
<path d="M364.5,352.3 V338.8 A3.2,3.2 0 0 1 370.9,338.8 V352.3" stroke-width="1.59"/>
<path d="M364.5,339.6 H370.9" stroke-width="1.59"/>
<path d="M364.5,342.0 H370.9" stroke-width="1.59"/>
<path d="M364.5,344.4 H370.9" stroke-width="1.59"/>
<path d="M364.5,346.8 H370.9" stroke-width="1.59"/>
<path d="M364.5,349.2 H370.9" stroke-width="1.59"/>
<path d="M361.9,353.5 Q361.9,352.3 363.4,352.3 H372.0 Q373.5,352.3 373.5,353.5 V356.2 Q373.5,361.0 367.7,361.0 Q361.9,361.0 361.9,356.2 Z" stroke-width="1.83" fill="#fff"/>
<path d="M362.2,356.2 Q367.7,358.4 373.2,356.2" stroke-width="1.46"/>
<path d="M305.1,375.5 V361.7 A3.2,3.2 0 0 1 311.5,361.7 V375.5" stroke-width="1.59"/>
<path d="M305.1,362.5 H311.5" stroke-width="1.59"/>
<path d="M305.1,364.9 H311.5" stroke-width="1.59"/>
<path d="M305.1,367.3 H311.5" stroke-width="1.59"/>
<path d="M305.1,369.7 H311.5" stroke-width="1.59"/>
<path d="M305.1,372.1 H311.5" stroke-width="1.59"/>
<path d="M305.1,374.5 H311.5" stroke-width="1.59"/>
<path d="M302.3,376.7 Q302.3,375.5 303.8,375.5 H312.8 Q314.3,375.5 314.3,376.7 V378.7 Q314.3,382.6 308.3,382.6 Q302.3,382.6 302.3,378.7 Z" stroke-width="1.83" fill="#fff"/>
<path d="M302.6,378.7 Q308.3,380.9 314.0,378.7" stroke-width="1.46"/>
<path d="M87.5,289.5 L90.6,295.8 L96.8,297.4 L100.4,293.8 L99.9,288.5 L95.0,288.5 Z" stroke-width="1.71" fill="#fff"/>
<circle cx="97.2" cy="293.2" r="1.5" stroke-width="1.34"/>
<path d="M75.7,283.5 L78.2,280.9 L90.6,277.8 L97.8,278.3 L100.4,281.4 L99.9,285.0 L94.7,288.6 L87.5,291.2 L80.3,290.7 L76.2,287.1 Z" stroke-width="1.83" fill="#fff"/>
<path d="M76.5,285.5 Q84.0,290.0 99.5,283.0" stroke-width="1.22"/>
<ellipse cx="83.4" cy="283.3" rx="2.2" ry="1.2" stroke-width="1.34"/>
<path d="M90.4,281.0 V274.5 A2.6,2.4 0 0 1 95.6,274.5 V281.0" stroke-width="1.71" fill="#fff"/>
<path d="M90.4,276.5 H95.6" stroke-width="1.22"/>
<path d="M82.8,314.0 L83.2,307.6 L85.0,303.6 L86.8,307.6 L87.2,314.0" stroke-width="1.59" fill="#fff"/>
<path d="M83.0,307.6 L87.0,308.6" stroke-width="1.34"/>
<path d="M83.0,309.6 L87.0,310.6" stroke-width="1.34"/>
<path d="M83.0,311.6 L87.0,312.6" stroke-width="1.34"/>
<ellipse cx="85.0" cy="316.0" rx="5.6" ry="2.6" fill="#fff" stroke-width="1.71"/>
<path d="M79.6,316.5 Q80.0,320.0 85.0,320.0 Q90.0,320.0 90.4,316.5" stroke-width="1.71"/>
<path d="M82.8,314.0 L82.8,315.5 M87.2,314.0 L87.2,315.5" stroke-width="1.46"/>
<path d="M164.0,321.7 L167.1,328.0 L173.3,329.6 L176.9,326.0 L176.4,320.7 L171.5,320.7 Z" stroke-width="1.71" fill="#fff"/>
<circle cx="173.7" cy="325.4" r="1.5" stroke-width="1.34"/>
<path d="M152.2,315.7 L154.7,313.1 L167.1,310.0 L174.3,310.5 L176.9,313.6 L176.4,317.2 L171.2,320.8 L164.0,323.4 L156.8,322.9 L152.7,319.3 Z" stroke-width="1.83" fill="#fff"/>
<path d="M153.0,317.7 Q160.5,322.2 176.0,315.2" stroke-width="1.22"/>
<ellipse cx="159.9" cy="315.5" rx="2.2" ry="1.2" stroke-width="1.34"/>
<path d="M166.9,313.2 V306.7 A2.6,2.4 0 0 1 172.1,306.7 V313.2" stroke-width="1.71" fill="#fff"/>
<path d="M166.9,308.7 H172.1" stroke-width="1.22"/>
<path d="M158.4,338.0 L158.8,333.8 L160.6,329.8 L162.4,333.8 L162.8,338.0" stroke-width="1.59" fill="#fff"/>
<path d="M158.6,333.8 L162.6,334.8" stroke-width="1.34"/>
<path d="M158.6,335.8 L162.6,336.8" stroke-width="1.34"/>
<path d="M158.6,337.8 L162.6,338.8" stroke-width="1.34"/>
<ellipse cx="160.6" cy="340.0" rx="5.6" ry="2.6" fill="#fff" stroke-width="1.71"/>
<path d="M155.2,340.5 Q155.6,344.0 160.6,344.0 Q165.6,344.0 166.0,340.5" stroke-width="1.71"/>
<path d="M158.4,338.0 L158.4,339.5 M162.8,338.0 L162.8,339.5" stroke-width="1.46"/>
<path d="M50.8,420.3 L53.7,418.1 L66.7,413.8 L71.0,415.3 L81.2,420.3 L107.2,416.0 L110.1,416.7 L117.3,420.3 L120.2,403.7 L131.8,407.3 L137.6,405.1 L144.0,407.0 L146.3,408.7 L149.2,413.8 L162.2,421.0 L158.6,438.4 L187.5,452.9 L188.2,455.8 L186.0,458.6 L160.7,470.9 L157.8,471.7 L87.0,437.0 L78.3,434.1 L72.5,432.6 L51.5,423.9 Z" stroke-width="1.95" fill="#fff"/>
<path d="M51.5,423.9 L51.5,426.5 L72.5,435 M87,440 L157.8,474.5 L160.7,474 L186.5,461.5 L188.2,455.8" stroke-width="1.71"/>
<path d="M117.3,420.3 L158.6,438.4 M158.6,438.4 L155.5,436.8 L159,420 M162.2,421 L159,420" stroke-width="1.46"/>
<path d="M102.9,434.1 L117.3,427.5 L154.9,444.2 L139.0,450.7 Z" stroke-width="1.59"/>
<path d="M104,432 L118.5,425.5 L154,441.5" stroke-width="1.34"/>
<path d="M134.0,412.4 L144.8,415.5 L144.0,418.1 L133.5,415.0 Z" stroke-width="1.46"/>
<path d="M76.1,427.5 L80.0,424.7 L94.2,430.0 L94.0,433.5 L90.0,434.8 L77.0,430.0 Z" stroke-width="1.59" fill="#fff"/>
<path d="M76.5,429.5 L89,434.5 L90,437" stroke-width="1.34"/>
<path d="M103.6,460.0 L111.0,455.0 L119.5,458.0 L118.5,462.0 L111.5,464.4 L104.0,462.5 Z" stroke-width="1.71" fill="#fff"/>
<path d="M106,460 L112.5,457 L117,459 L110.5,462 Z" stroke-width="1.22"/>
<path d="M97.3,483.3 L117.7,472.7 L154.3,490.6 L134.3,501.2 Z" stroke-width="1.83" fill="#fff"/>
<path d="M97.3,483.3 L97.3,486.2 L134.3,504 L154.3,492.7 L154.3,490.6 M134.3,501.2 L134.3,504" stroke-width="1.71"/>
<path d="M115.2,487.8 L125.8,482.5 L143.7,491.9 L133.1,497.5 Z" stroke-width="1.46"/>
<path d="M107.5,481.5 L113.0,478.8 L120.1,481.8 L114.5,484.9 Z" stroke-width="1.59" fill="#aaa"/>
<path d="M122,487.5 L130,488.5 M125,491 L134,492" stroke-width="1.59"/>
<ellipse cx="212.9" cy="461.3" rx="7.4" ry="5.2" fill="#fff" stroke-width="2.32"/>
<ellipse cx="212.9" cy="461.1" rx="5.2" ry="3.0" stroke-width="0.98" stroke="#444"/>
<ellipse cx="212.9" cy="461.0" rx="2.2" ry="1.7" fill="#111" stroke-width="0.61"/>
<path d="M180.9,476.8 L210.4,489.5 L208.9,493.0 L179.9,480.3 Z" stroke-width="1.71" fill="#fff"/>
<path d="M184.4,480.0 L204.4,488.8" stroke-width="1.22"/>
<circle cx="180.7" cy="478.5" r="2" fill="#fff" stroke-width="1.59"/>
<ellipse cx="210.4" cy="483.3" rx="9.8" ry="5.8" fill="#fff" stroke-width="2.07"/>
<ellipse cx="209.9" cy="482.3" rx="6" ry="3.4" stroke-width="1.71"/>
<ellipse cx="209.9" cy="482.0" rx="2.6" ry="2.2" stroke-width="1.71"/>
<path d="M200.9,485.5 L209.4,491.5" stroke-width="1.59"/>
<path d="M208.9,515.3 V501.8 A3.2,3.2 0 0 1 215.3,501.8 V515.3" stroke-width="1.59"/>
<path d="M208.9,502.6 H215.3" stroke-width="1.59"/>
<path d="M208.9,505.0 H215.3" stroke-width="1.59"/>
<path d="M208.9,507.4 H215.3" stroke-width="1.59"/>
<path d="M208.9,509.8 H215.3" stroke-width="1.59"/>
<path d="M208.9,512.2 H215.3" stroke-width="1.59"/>
<path d="M206.3,516.5 Q206.3,515.3 207.8,515.3 H216.4 Q217.9,515.3 217.9,516.5 V519.2 Q217.9,524.0 212.1,524.0 Q206.3,524.0 206.3,519.2 Z" stroke-width="1.83" fill="#fff"/>
<path d="M206.6,519.2 Q212.1,521.4 217.6,519.2" stroke-width="1.46"/>
<path d="M153.1,538.5 V525.2 A3.2,3.2 0 0 1 159.5,525.2 V538.5" stroke-width="1.59"/>
<path d="M153.1,526.0 H159.5" stroke-width="1.59"/>
<path d="M153.1,528.4 H159.5" stroke-width="1.59"/>
<path d="M153.1,530.8 H159.5" stroke-width="1.59"/>
<path d="M153.1,533.2 H159.5" stroke-width="1.59"/>
<path d="M153.1,535.6 H159.5" stroke-width="1.59"/>
<path d="M150.3,539.7 Q150.3,538.5 151.8,538.5 H160.8 Q162.3,538.5 162.3,539.7 V542.5 Q162.3,547.3 156.3,547.3 Q150.3,547.3 150.3,542.5 Z" stroke-width="1.83" fill="#fff"/>
<path d="M150.6,542.5 Q156.3,544.7 162.0,542.5" stroke-width="1.46"/>
<ellipse cx="641.5" cy="17.8" rx="6.3" ry="6.8" transform="rotate(20 641.5 17.8)" fill="#fff" stroke-width="2.68"/>
<ellipse cx="642.5" cy="17.8" rx="3.4" ry="4.4" transform="rotate(20 642.5 17.8)" stroke-width="1.71"/>
<path d="M640.5,15 L644.5,16.5 L644,20.5 L640,19 Z" stroke-width="1.22"/>
<path d="M647.9,21.5 L651,23.5" stroke-width="1.34"/>
<path d="M626.5,35.3 L662.8,20.4 Q666.8,19.5 668.2,22.9 L668.2,27.9 L684.6,36.3 L685.6,38.8 L684.6,41.8 L648.9,57.7 L644.9,58.2 L628,50.7 L627,40.8 Z" stroke-width="2.07" fill="#fff"/>
<path d="M628.5,38.2 L664,23.6 Q665.8,23.4 666,25.5 L666.2,28.5 M627,40.8 L630.5,42.3 L631.5,50.5 M630.5,47 L645.5,54 L684,38" stroke-width="1.59"/>
<path d="M634.5,34.8 Q632.5,40.8 636.5,43.3 Q639.5,44.8 638.5,48.3" stroke-width="1.71"/>
<path d="M636.7,35.5 Q634.7,40.8 638.7,43.3 Q641.7,44.8 640.7,47.6" stroke-width="1.71"/>
<path d="M642.7,31.4 Q640.7,37.4 644.7,39.9 Q647.7,41.4 646.7,44.9" stroke-width="1.71"/>
<path d="M644.9,32.1 Q642.9,37.4 646.9,39.9 Q649.9,41.4 648.9,44.2" stroke-width="1.71"/>
<path d="M650.9,28.0 Q648.9,34.0 652.9,36.5 Q655.9,38.0 654.9,41.5" stroke-width="1.71"/>
<path d="M653.1,28.7 Q651.1,34.0 655.1,36.5 Q658.1,38.0 657.1,40.8" stroke-width="1.71"/>
<path d="M659.1,24.6 Q657.1,30.6 661.1,33.1 Q664.1,34.6 663.1,38.1" stroke-width="1.71"/>
<path d="M661.3,25.3 Q659.3,30.6 663.3,33.1 Q666.3,34.6 665.3,37.4" stroke-width="1.71"/>
<circle cx="631.5" cy="42" r="1" stroke-width="1.34"/>
<path d="M671.2,28.4 L684.6,22.4" stroke-width="1.22" stroke-dasharray="2 1.5"/>
<path d="M688.6,25.4 L697.5,29.5 M688,27.5 L696.5,31.8" stroke-width="1.71"/>
<path d="M690,25.8 L689.4,28 M692.5,27 L692,29.2 M695,28 L694.5,30.2" stroke-width="1.46"/>
<ellipse cx="699.8" cy="32.3" rx="2.6" ry="5.6" transform="rotate(-15 699.8 32.3)" fill="#fff" stroke-width="1.83"/>
<ellipse cx="705.5" cy="32.8" rx="5" ry="5.2" fill="#fff" stroke-width="2.44"/>
<path d="M703,29 L705.5,32.5 L703,36.5 M705.5,32.5 H709.5" stroke-width="1.34"/>
<ellipse cx="636.9" cy="98.0" rx="6.9" ry="4.7" fill="#fff" stroke-width="2.32"/>
<ellipse cx="636.9" cy="97.8" rx="4.8" ry="2.7" stroke-width="0.98" stroke="#444"/>
<ellipse cx="636.9" cy="97.7" rx="2.1" ry="1.5" fill="#111" stroke-width="0.61"/>
<path d="M593.1,127.2 L694.5,82.7 L696.0,85.0 L697.6,89.6 L708.3,88.1 L709.9,90.4 L708.3,96.5 L610.0,138.0 L607.7,137.2 L606.9,133.4 L594.6,130.3 Z" stroke-width="1.83" fill="#fff"/>
<path d="M595.4,126.5 L694,84.5 M606.9,133.4 L697.6,92.5 L697.6,89.6 M610,138 L608.5,133.5" stroke-width="1.46"/>
<path d="M615,127 L630,121 L633,126 M648,116 Q652,113 655,115 M676,103 L691,96.5 L692,99 L677,106 Z" stroke-width="1.34"/>
<circle cx="615.5" cy="128" r="1.7" stroke-width="1.46"/><circle cx="636" cy="116.5" r="1.1" stroke-width="1.34"/><circle cx="664.6" cy="104.5" r="1.1" stroke-width="1.34"/><circle cx="694" cy="92" r="1.7" stroke-width="1.46"/>
<path d="M670,95.5 L684,89.5" stroke-width="1.59"/>
<path d="M634.1,143.5 V134.6 L636.5,132.6 L638.9,134.6 V143.5" stroke-width="1.59" fill="#fff"/>
<path d="M634.1,135.1 H638.9" stroke-width="1.83"/>
<path d="M634.1,136.9 H638.9" stroke-width="1.83"/>
<path d="M634.1,138.7 H638.9" stroke-width="1.83"/>
<path d="M634.1,140.5 H638.9" stroke-width="1.83"/>
<path d="M634.1,142.3 H638.9" stroke-width="1.83"/>
<path d="M636.5,134.6 V143.5" stroke-width="1.22"/>
<path d="M631.5,146.1 V152.6 Q636.5,155.1 641.5,152.6 V146.1" stroke-width="1.71" fill="#fff"/>
<path d="M635.0,147.1 V153.6 M639.0,147.1 V153.3" stroke-width="1.22"/>
<ellipse cx="636.5" cy="146.1" rx="7.3" ry="2.6" fill="#fff" stroke-width="1.71"/>
<ellipse cx="636.5" cy="145.5" rx="3.2" ry="1.1" stroke-width="1.22"/>
<ellipse cx="762.0" cy="77.0" rx="6.8" ry="4.8" fill="#fff" stroke-width="2.32"/>
<ellipse cx="762.0" cy="76.8" rx="4.8" ry="2.8" stroke-width="0.98" stroke="#444"/>
<ellipse cx="762.0" cy="76.7" rx="2.0" ry="1.5" fill="#111" stroke-width="0.61"/>
<path d="M767.2,72.5 L775.8,72.5" stroke-width="1.34"/>
<path d="M753.4,91.4 L755.2,94.0 L759.5,96.5 L763.7,94.8 L767.2,100.0 L772.3,105.1 L777.5,108.6 L793.0,101.7 L799.0,100.0 L800.7,96.5 L829.0,86.2 L830.8,84.5 L842.8,88.8 L853.1,77.6 L875.4,63.9 L894.3,57.9 L896.0,53.6 L892.6,51.0 L882.3,50.2 L868.6,57.0 L846.2,63.9 L823.9,70.8 L821.3,69.0 L808.4,67.3 L803.3,70.8 L801.5,75.9 L789.5,80.2 L779.2,80.2 L755.2,88.8 Z" stroke-width="1.83" fill="#fff"/>
<path d="M757,91.5 L800,77.5 M767.2,100 L799,90 L829,80.5 L853,73.5 M830.8,84.5 L829,80.5 M853.1,77.6 L876,62.5 L893,55 M772,99 L777.5,108.6 M793,101.7 L792,95" stroke-width="1.34"/>
<path d="M833,76.5 L852,70 L853,72 L834,78.5 Z M868,60 L880,56 L882,59 L870,63 Z" stroke-width="1.46"/>
<circle cx="779.5" cy="100" r="2" stroke-width="1.71"/><circle cx="779" cy="85" r="1" stroke-width="1.22"/><circle cx="786.5" cy="86" r="1" stroke-width="1.22"/><circle cx="770.5" cy="92" r="1.3" stroke-width="1.22"/><circle cx="810" cy="71" r="1.4" stroke-width="1.34"/>
<path d="M766.1,122.3 V114.0 L768.5,112.0 L770.9,114.0 V122.3" stroke-width="1.59" fill="#fff"/>
<path d="M766.1,114.5 H770.9" stroke-width="1.83"/>
<path d="M766.1,116.3 H770.9" stroke-width="1.83"/>
<path d="M766.1,118.1 H770.9" stroke-width="1.83"/>
<path d="M766.1,119.9 H770.9" stroke-width="1.83"/>
<path d="M766.1,121.7 H770.9" stroke-width="1.83"/>
<path d="M768.5,114.0 V122.3" stroke-width="1.22"/>
<path d="M763.0,124.9 V132.8 Q768.5,135.3 774.0,132.8 V124.9" stroke-width="1.71" fill="#fff"/>
<path d="M767.0,125.9 V133.8 M771.0,125.9 V133.5" stroke-width="1.22"/>
<ellipse cx="768.5" cy="124.9" rx="7.5" ry="2.6" fill="#fff" stroke-width="1.71"/>
<ellipse cx="768.5" cy="124.3" rx="3.2" ry="1.1" stroke-width="1.22"/>
<ellipse cx="993.8" cy="140.8" rx="7" ry="5.5" fill="#fff" stroke-width="1.95"/>
<path d="M990.5,138 L996.5,138 L997,143 L991,143 Z" stroke-width="1.34"/>
<path d="M953.8,187.0 L967.7,180.6 L971.5,179.4 L999.0,167.5 L1001.9,163.5 L998.1,157.2 L999.4,156.0 L1026.0,150.9 L1061.4,135.7 L1074.7,139.5 L1074.7,142.7 L1028.5,163.5 L1031.0,168.0 L1026.0,171.8 L1020.9,169.2 L1005.7,174.3 L1005.7,180.6 L981.6,193.3 L978.0,193.0 L966.5,192.0 L962.7,192.7 L957.6,189.5 Z" stroke-width="1.95" fill="#fff"/>
<path d="M1026,154.8 L1061.5,139.3 L1072.5,141.8 M1025.5,158.3 L1073.5,141.5 M1004.4,166.1 L1023.4,160.4 L1026,150.9 M1023.4,160.4 L1026,161.6" stroke-width="1.46"/>
<path d="M972.5,183 L1004,169.5 M957.6,189.5 L964.5,184.2 L966.5,192 M967.7,180.6 L973,186.5 L978,193" stroke-width="1.46"/>
<path d="M1007.5,176.8 L1019.5,171.8 L1020.5,173.5 L1008.5,178.5 Z" stroke-width="1.34"/>
<circle cx="998.7" cy="178.1" r="1.3" stroke-width="1.34"/><circle cx="1023.5" cy="166.5" r="1.4" stroke-width="1.34"/>
<path d="M980,187 L983.5,185.5 M980.5,189 L984,187.5" stroke-width="1.59"/>
<g transform="rotate(22 974 210)">
<path d="M971.7,208.8 V201.5 L974.0,199.5 L976.3,201.5 V208.8" stroke-width="1.59" fill="#fff"/>
<path d="M971.7,202.0 H976.3" stroke-width="1.83"/>
<path d="M971.7,203.8 H976.3" stroke-width="1.83"/>
<path d="M971.7,205.6 H976.3" stroke-width="1.83"/>
<path d="M971.7,207.4 H976.3" stroke-width="1.83"/>
<path d="M974.0,201.5 V208.8" stroke-width="1.22"/>
<path d="M968.8,211.4 V219.4 Q974.0,221.9 979.2,219.4 V211.4" stroke-width="1.71" fill="#fff"/>
<path d="M972.5,212.4 V220.4 M976.5,212.4 V220.1" stroke-width="1.22"/>
<ellipse cx="974.0" cy="211.4" rx="6.8" ry="2.6" fill="#fff" stroke-width="1.71"/>
<ellipse cx="974.0" cy="210.8" rx="3.1" ry="1.1" stroke-width="1.22"/>
</g>
<ellipse cx="971.0" cy="240.5" rx="7.0" ry="4.6" fill="#fff" stroke-width="2.32"/>
<ellipse cx="971.0" cy="240.3" rx="4.9" ry="2.7" stroke-width="0.98" stroke="#444"/>
<ellipse cx="971.0" cy="240.2" rx="2.1" ry="1.5" fill="#111" stroke-width="0.61"/>
<path d="M963.8,264.5 L966.0,259.5 L971.0,256.5 L979.7,256.9 L984.8,258.7 L986.9,262.3 L989.1,268.1 L988.4,276.8 L985.5,281.1 L981.1,284.0 L976.8,285.4 L972.5,284.0 L971.4,279.7 L973.2,276.8 L976.1,275.3 L975.7,269.5 L968.9,268.1 L964.5,266.6 Z" stroke-width="1.95" fill="#fff"/>
<path d="M964.5,264.5 Q970,266.5 978,266.5 L987,263" stroke-width="1.46"/>
<path d="M980.4,266.8 L981.1,283" stroke-width="1.46"/>
<circle cx="975.6" cy="279.6" r="2" stroke-width="1.46"/>
<ellipse cx="972" cy="260.8" rx="3.6" ry="2.2" stroke-width="1.71"/><ellipse cx="978.8" cy="260.5" rx="2" ry="1.4" stroke-width="1.71" fill="#444"/>
<path d="M969.5,260.8 H974.5" stroke-width="1.22"/>
<path d="M1035.2,276.5 L1037.8,273.9 L1055.2,267.0 L1058.7,266.1 L1061.3,267.8 L1068.2,271.3 L1070.0,274.8 L1068.2,277.4 L1054.3,285.2 L1050.0,288.7 L1044.8,290.0 L1037.8,286.9 L1035.2,282.6 Z" stroke-width="2.07" fill="#fff"/>
<path d="M1038.5,277.5 Q1039,275.5 1043,274.3 L1061,268.8 Q1066,270 1066.5,273.5 L1052,281.5 Q1049,283.5 1047.5,286.5 M1038.5,277.5 Q1038.5,283 1043.5,286" stroke-width="1.59"/>
<path d="M1040.5,278.5 Q1042,282 1045.5,283 L1048,281.5 M1041,277 L1046,276" stroke-width="1.59"/>
<ellipse cx="1050.9" cy="276.1" rx="2.2" ry="1.4" stroke-width="1.59"/><ellipse cx="1057.8" cy="275.6" rx="1.4" ry="1" stroke-width="1.59"/>
<path d="M1055.6,271.5 V267.5 Q1057.3,266 1059.1,267.5 V271.5 Q1057.3,272.8 1055.6,271.5 Z" stroke-width="1.46" fill="#fff"/>
<path d="M1044.8,295.5 L1049,292.8 L1056,293 L1060.5,291.8 L1066.5,293.5 L1067.4,297 L1064,300 L1060,300.5 L1056.5,303.4 L1048,303 L1044,300 Z" stroke-width="1.95" fill="#fff"/>
<ellipse cx="1052.2" cy="297.4" rx="2.3" ry="1.3" stroke-width="1.46"/>
<path d="M1045,299.5 Q1050,302 1056.5,300.8 L1066,296" stroke-width="1.34"/>
<path d="M953.6,311.3 L962.2,305.3 L970.8,300.2 L978.5,303.6 L980.2,307.9 L986.2,308.7 L991.4,313.0 L990.5,316.5 L982.8,317.3 L979.3,314.7 L963.9,319.9 L957.0,319.0 L953.6,314.7 Z" stroke-width="1.95" fill="#fff"/>
<path d="M955,312 Q958,316 964,315.5 L979,310 M964,315.5 L963.9,319.9" stroke-width="1.46"/>
<circle cx="965" cy="306.5" r="1.6" fill="#fff" stroke-width="1.46"/><circle cx="975" cy="303" r="1.6" fill="#fff" stroke-width="1.46"/><circle cx="970.5" cy="309.5" r="2.2" stroke-width="1.46"/>
<path d="M957.5,331.0 L961.0,327.5 L964.0,328.0 L967.0,325.2 L971.0,326.0 L973.0,328.5 L977.5,329.0 L978.5,332.0 L975.0,334.5 L971.0,337.1 L967.0,335.5 L962.0,336.0 L960.0,333.5 Z" stroke-width="1.83" fill="#fff"/>
<circle cx="968" cy="331" r="1.4" stroke-width="1.34"/>
<path d="M958.7,353.4 L970.8,344.8 L979.3,345.7 L984.5,346.5 L1027.4,328.5 L1035.2,325.9 L1035.2,319.0 L1041.2,317.3 L1051.5,315.6 L1058.3,319.9 L1058.3,323.3 L1048.0,325.1 L1044.6,329.3 L1030.9,337.1 L991.4,355.1 L981.9,352.5 L969.0,358.5 L965.6,361.1 L959.6,357.7 Z" stroke-width="1.95" fill="#fff"/>
<path d="M985,350 L1034,329.5 L1044,325.5 M990,354 L989,349 M998,346 L1000,351 M1005,343 L1007,348 M1012,340 L1014,345 M1019,337 L1021,342 M1026,333.5 L1028,338.5" stroke-width="1.46"/>
<ellipse cx="965" cy="353" rx="2.5" ry="1.5" stroke-width="1.46"/><ellipse cx="1049" cy="320" rx="2.5" ry="1.5" stroke-width="1.46"/>
<path d="M961,358.5 L962,361 M966,358.5 L966.5,361" stroke-width="1.34"/>
<path d="M1038.6,344.0 L1056.6,336.2 L1067.8,340.5 L1049.8,349.1 Z" stroke-width="1.83" fill="#fff"/>
<ellipse cx="1053" cy="342.5" rx="5.5" ry="2.5" transform="rotate(-20 1053 342.5)" stroke-width="1.59"/>
<path d="M956.2,374.9 L970.8,368.8 L982.8,373.1 L967.3,380.9 Z" stroke-width="1.83" fill="#fff"/>
<ellipse cx="969.5" cy="374.7" rx="5.5" ry="2.5" transform="rotate(-20 969.5 374.7)" stroke-width="1.59"/>
<path d="M1032.2,365.4 L1035.9,358.1 L1040.0,358.0 L1044.9,362.7 L1055.8,365.4 L1059.4,366.3 L1064.8,371.7 L1063.9,375.3 L1054.0,378.0 L1033.1,370.8 Z" stroke-width="1.95" fill="#fff"/>
<path d="M1033,366 L1053,372.5 L1064.5,370.5 M1053,372.5 L1054,378" stroke-width="1.46"/>
<circle cx="1037.5" cy="359.5" r="1.8" fill="#fff" stroke-width="1.46"/><circle cx="1057" cy="365.5" r="1.8" fill="#fff" stroke-width="1.46"/><ellipse cx="1047.5" cy="366.5" rx="3" ry="1.8" stroke-width="1.46"/>
<path d="M1046.8,391.4 V382.5 L1049.4,380.5 L1052.0,382.5 V391.4" stroke-width="1.59" fill="#fff"/>
<path d="M1046.8,383.0 H1052.0" stroke-width="1.83"/>
<path d="M1046.8,384.8 H1052.0" stroke-width="1.83"/>
<path d="M1046.8,386.6 H1052.0" stroke-width="1.83"/>
<path d="M1046.8,388.4 H1052.0" stroke-width="1.83"/>
<path d="M1046.8,390.2 H1052.0" stroke-width="1.83"/>
<path d="M1049.4,382.5 V391.4" stroke-width="1.22"/>
<path d="M1043.7,394.0 V405.5 Q1049.4,408.0 1055.2,405.5 V394.0" stroke-width="1.71" fill="#fff"/>
<path d="M1047.9,395.0 V406.5 M1051.9,395.0 V406.2" stroke-width="1.22"/>
<ellipse cx="1049.4" cy="394.0" rx="8.8" ry="2.6" fill="#fff" stroke-width="1.71"/>
<ellipse cx="1049.4" cy="393.4" rx="3.4" ry="1.1" stroke-width="1.22"/>
<path d="M951.5,397.6 L954.4,391.8 L959.1,387.1 L962.6,385.9 L966.8,389.4 L974.4,393.5 L979.1,394.7 L983.8,397.1 L984.4,403.5 L980.9,405.3 L969.7,410.0 L957.9,408.8 L954.4,405.9 L952.1,402.4 Z" stroke-width="1.95" fill="#fff"/>
<path d="M952,399 L957,398 L968,404 L983.8,397.1 M968,404 L969.7,410 M956,393 Q960,391 963,394 L970,397.5" stroke-width="1.46"/>
<circle cx="961" cy="387.5" r="1.6" fill="#fff" stroke-width="1.34"/><ellipse cx="967.5" cy="396.5" rx="3" ry="1.8" stroke-width="1.46"/><circle cx="975.5" cy="395.5" r="1.3" stroke-width="1.22"/>
<path d="M966.6,426.3 V416.1 L969.5,414.1 L972.4,416.1 V426.3" stroke-width="1.59" fill="#fff"/>
<path d="M966.6,416.6 H972.4" stroke-width="1.83"/>
<path d="M966.6,418.4 H972.4" stroke-width="1.83"/>
<path d="M966.6,420.2 H972.4" stroke-width="1.83"/>
<path d="M966.6,422.0 H972.4" stroke-width="1.83"/>
<path d="M966.6,423.8 H972.4" stroke-width="1.83"/>
<path d="M966.6,425.6 H972.4" stroke-width="1.83"/>
<path d="M969.5,416.1 V426.3" stroke-width="1.22"/>
<path d="M963.2,428.9 V438.1 Q969.5,440.6 975.8,438.1 V428.9" stroke-width="1.71" fill="#fff"/>
<path d="M968.0,429.9 V439.1 M972.0,429.9 V438.8" stroke-width="1.22"/>
<ellipse cx="969.5" cy="428.9" rx="8.5" ry="2.6" fill="#fff" stroke-width="1.71"/>
<ellipse cx="969.5" cy="428.3" rx="3.7" ry="1.1" stroke-width="1.22"/>
<path d="M1039.7,430.8 L1041.3,429.2 L1059.0,422.0 L1061.6,421.3 L1072.3,427.7 L1072.7,430.8 L1070.4,435.3 L1055.9,442.8 L1052.7,444.7 L1048.9,444.1 L1040.7,440.3 L1039.7,436.5 Z" stroke-width="2.07" fill="#fff"/>
<path d="M1042.5,431.5 L1060.5,424.3 M1044,434 L1061.5,427 L1066.5,428.8 M1049.5,436.5 L1064.5,430.2 M1054.5,438.5 L1070.5,431.5" stroke-width="1.59"/>
<path d="M1043.6,432.5 L1044.5,438.5 L1049.6,440.3 L1054.5,438.5 L1055.9,442.8 M1061.6,421.3 L1061,424.5 L1066,427.3 L1072.3,427.7" stroke-width="1.59"/>
<path d="M948.8,470.6 L956.3,465.2 L964.4,462.5 L971.2,466.6 L980.0,468.6 L984.1,471.3 L984.8,475.4 L980.7,478.1 L963.1,482.2 L953.6,478.8 L949.5,474.7 Z" stroke-width="1.95" fill="#fff"/>
<path d="M950,471.5 Q955,476 962,475.5 L984,470.5 M962,475.5 L963.1,482.2 M955,468 L963,465 L969,468 L961,471 Z" stroke-width="1.46"/>
<use href="#visA" transform="matrix(0.98855 0.02213 -0.06450 1.00968 544.148 58.605)"/>
<ellipse cx="580.4" cy="188.3" rx="7.0" ry="4.9" fill="#fff" stroke-width="2.32"/>
<ellipse cx="580.4" cy="188.1" rx="4.9" ry="2.8" stroke-width="0.98" stroke="#444"/>
<ellipse cx="580.4" cy="188.0" rx="2.1" ry="1.6" fill="#111" stroke-width="0.61"/>
<g transform="translate(533.1 61.4)">
<path d="M91.6,126.4 L104.0,118.7 L120.8,125.9 L121.3,128.8 L109.8,135.0 L92.5,129.3 Z" stroke-width="1.95" fill="#fff"/>
<path d="M92,127 L108.5,132.5 L121,126.5 M108.5,132.5 L109.8,135" stroke-width="1.34"/>
<path d="M96,124.5 L110,130 M100,122 L114,128 M104,120.5 L117.5,126 M97,127 L107,121 M101,128.5 L111,122.5 M105,130 L115,124" stroke-width="1.10"/>
<path d="M100.2,148.4 L119.4,139.8 A3.3,3.3 0 0 1 122.7,145.1 L102.1,154.7 A3.3,3.3 0 0 1 100.2,148.4 Z" stroke-width="1.83" fill="#fff"/>
<path d="M103.3,147.3 L105,153.5 M118,141 L119.5,146.5 M106,148.5 L116,144 M106.5,151 L116.5,146.5" stroke-width="1.22"/>
</g>
<path d="M576.6,290.5 V275.7 A3.2,3.2 0 0 1 583.0,275.7 V290.5" stroke-width="1.59"/>
<path d="M576.6,276.5 H583.0" stroke-width="1.59"/>
<path d="M576.6,278.9 H583.0" stroke-width="1.59"/>
<path d="M576.6,281.3 H583.0" stroke-width="1.59"/>
<path d="M576.6,283.7 H583.0" stroke-width="1.59"/>
<path d="M576.6,286.1 H583.0" stroke-width="1.59"/>
<path d="M576.6,288.5 H583.0" stroke-width="1.59"/>
<path d="M574.2,291.7 Q574.2,290.5 575.7,290.5 H583.9 Q585.4,290.5 585.4,291.7 V294.6 Q585.4,299.6 579.8,299.6 Q574.2,299.6 574.2,294.6 Z" stroke-width="1.83" fill="#fff"/>
<path d="M574.5,294.6 Q579.8,296.8 585.1,294.6" stroke-width="1.46"/>
<path d="M625.8,327.0 L628.9,333.3 L635.1,334.9 L638.7,331.3 L638.2,326.0 L633.3,326.0 Z" stroke-width="1.71" fill="#fff"/>
<circle cx="635.5" cy="330.7" r="1.5" stroke-width="1.34"/>
<path d="M614.0,321.0 L616.5,318.4 L628.9,315.3 L636.1,315.8 L638.7,318.9 L638.2,322.5 L633.0,326.1 L625.8,328.7 L618.6,328.2 L614.5,324.6 Z" stroke-width="1.83" fill="#fff"/>
<path d="M614.8,323.0 Q622.3,327.5 637.8,320.5" stroke-width="1.22"/>
<ellipse cx="621.7" cy="320.8" rx="2.2" ry="1.2" stroke-width="1.34"/>
<path d="M628.7,318.5 V312.0 A2.6,2.4 0 0 1 633.9,312.0 V318.5" stroke-width="1.71" fill="#fff"/>
<path d="M628.7,314.0 H633.9" stroke-width="1.22"/>
<path d="M621.0,352.5 L621.4,347.0 L623.2,343.0 L625.0,347.0 L625.4,352.5" stroke-width="1.59" fill="#fff"/>
<path d="M621.2,347.0 L625.2,348.0" stroke-width="1.34"/>
<path d="M621.2,349.0 L625.2,350.0" stroke-width="1.34"/>
<path d="M621.2,351.0 L625.2,352.0" stroke-width="1.34"/>
<ellipse cx="623.2" cy="354.5" rx="5.6" ry="2.6" fill="#fff" stroke-width="1.71"/>
<path d="M617.8,355.0 Q618.2,358.5 623.2,358.5 Q628.2,358.5 628.6,355.0" stroke-width="1.71"/>
<path d="M621.0,352.5 L621.0,354.0 M625.4,352.5 L625.4,354.0" stroke-width="1.46"/>
<path d="M701.7,360.9 L704.8,367.2 L711.0,368.8 L714.6,365.2 L714.1,359.9 L709.2,359.9 Z" stroke-width="1.71" fill="#fff"/>
<circle cx="711.4" cy="364.6" r="1.5" stroke-width="1.34"/>
<path d="M689.9,354.9 L692.4,352.3 L704.8,349.2 L712.0,349.7 L714.6,352.8 L714.1,356.4 L708.9,360.0 L701.7,362.6 L694.5,362.1 L690.4,358.5 Z" stroke-width="1.83" fill="#fff"/>
<path d="M690.7,356.9 Q698.2,361.4 713.7,354.4" stroke-width="1.22"/>
<ellipse cx="697.6" cy="354.7" rx="2.2" ry="1.2" stroke-width="1.34"/>
<path d="M704.6,352.4 V345.9 A2.6,2.4 0 0 1 709.8,345.9 V352.4" stroke-width="1.71" fill="#fff"/>
<path d="M704.6,347.9 H709.8" stroke-width="1.22"/>
<path d="M696.2,376.3 L696.6,371.4 L698.4,367.4 L700.2,371.4 L700.6,376.3" stroke-width="1.59" fill="#fff"/>
<path d="M696.4,371.4 L700.4,372.4" stroke-width="1.34"/>
<path d="M696.4,373.4 L700.4,374.4" stroke-width="1.34"/>
<path d="M696.4,375.4 L700.4,376.4" stroke-width="1.34"/>
<ellipse cx="698.4" cy="378.3" rx="5.6" ry="2.6" fill="#fff" stroke-width="1.71"/>
<path d="M693.0,378.8 Q693.4,382.3 698.4,382.3 Q703.4,382.3 703.8,378.8" stroke-width="1.71"/>
<path d="M696.2,376.3 L696.2,377.8 M700.6,376.3 L700.6,377.8" stroke-width="1.46"/>
<use href="#visB" transform="translate(507.4 60.7)"/>
<ellipse cx="873.8" cy="361.3" rx="7.4" ry="5.2" fill="#fff" stroke-width="2.32"/>
<ellipse cx="873.8" cy="361.1" rx="5.2" ry="3.0" stroke-width="0.98" stroke="#444"/>
<ellipse cx="873.8" cy="361.0" rx="2.2" ry="1.7" fill="#111" stroke-width="0.61"/>
<path d="M841.8,376.8 L871.3,389.5 L869.8,393.0 L840.8,380.3 Z" stroke-width="1.71" fill="#fff"/>
<path d="M845.3,380.0 L865.3,388.8" stroke-width="1.22"/>
<circle cx="841.6" cy="378.5" r="2" fill="#fff" stroke-width="1.59"/>
<ellipse cx="871.3" cy="383.3" rx="9.8" ry="5.8" fill="#fff" stroke-width="2.07"/>
<ellipse cx="870.8" cy="382.3" rx="6" ry="3.4" stroke-width="1.71"/>
<ellipse cx="870.8" cy="382.0" rx="2.6" ry="2.2" stroke-width="1.71"/>
<path d="M861.8,385.5 L870.3,391.5" stroke-width="1.59"/>
<path d="M869.8,415.3 V401.8 A3.2,3.2 0 0 1 876.2,401.8 V415.3" stroke-width="1.59"/>
<path d="M869.8,402.6 H876.2" stroke-width="1.59"/>
<path d="M869.8,405.0 H876.2" stroke-width="1.59"/>
<path d="M869.8,407.4 H876.2" stroke-width="1.59"/>
<path d="M869.8,409.8 H876.2" stroke-width="1.59"/>
<path d="M869.8,412.2 H876.2" stroke-width="1.59"/>
<path d="M867.2,416.5 Q867.2,415.3 868.7,415.3 H877.3 Q878.8,415.3 878.8,416.5 V419.2 Q878.8,424.0 873.0,424.0 Q867.2,424.0 867.2,419.2 Z" stroke-width="1.83" fill="#fff"/>
<path d="M867.5,419.2 Q873.0,421.4 878.5,419.2" stroke-width="1.46"/>
<path d="M807.0,443.5 V429.7 A3.2,3.2 0 0 1 813.4,429.7 V443.5" stroke-width="1.59"/>
<path d="M807.0,430.5 H813.4" stroke-width="1.59"/>
<path d="M807.0,432.9 H813.4" stroke-width="1.59"/>
<path d="M807.0,435.3 H813.4" stroke-width="1.59"/>
<path d="M807.0,437.7 H813.4" stroke-width="1.59"/>
<path d="M807.0,440.1 H813.4" stroke-width="1.59"/>
<path d="M807.0,442.5 H813.4" stroke-width="1.59"/>
<path d="M804.2,444.7 Q804.2,443.5 805.7,443.5 H814.7 Q816.2,443.5 816.2,444.7 V446.9 Q816.2,451.0 810.2,451.0 Q804.2,451.0 804.2,446.9 Z" stroke-width="1.83" fill="#fff"/>
<path d="M804.5,446.9 Q810.2,449.1 815.9,446.9" stroke-width="1.46"/>
<path d="M570.8,424.6 L583.1,417.4 L599.7,423.1 L627.2,420.3 L644.6,428.2 L649.6,410.1 L663.4,413.0 L666.3,411.6 L676.4,415.2 L679.3,421.7 L688.7,426.8 L683.6,447.7 L685.1,449.2 L703.9,458.6 L704.6,462.2 L702.4,465.1 L680.7,474.5 L674.9,475.2 L607.0,443.4 L594.0,436.9 L571.5,428.2 Z" stroke-width="1.95" fill="#fff"/>
<path d="M571.5,428.2 L571.5,431 L594,440 M607,446.5 L674.9,478.2 L680.7,477.5 L703,467.5 L704.6,462.2" stroke-width="1.71"/>
<path d="M644.6,428.2 L683.6,447.7 L681,446 L685.5,426 L688.7,426.8" stroke-width="1.46"/>
<path d="M626.5,441.2 L644.6,433.3 L677.8,449.2 L661.9,458.6 Z" stroke-width="1.59"/>
<path d="M628,439 L646,431 L678,446.5" stroke-width="1.34"/>
<path d="M661.5,418.5 L671.0,421.5 L670.0,424.5 L660.5,421.5 Z" stroke-width="1.46"/>
<path d="M594.7,432.0 L598.5,428.9 L612.0,433.5 L612.0,437.5 L608.0,442.0 L595.0,437.0 Z" stroke-width="1.59" fill="#fff"/>
<path d="M595,434.5 L607,439 L608,442" stroke-width="1.34"/>
<path d="M624.3,466.0 L632.0,461.5 L640.2,464.5 L639.5,467.5 L632.0,469.4 L624.8,468.5 Z" stroke-width="1.71" fill="#fff"/>
<path d="M627,466 L633,463.5 L637.5,465.5 L631,468 Z" stroke-width="1.22"/>
<path d="M617.8,487.0 L638.0,477.5 L675.7,494.5 L655.5,504.5 Z" stroke-width="1.83" fill="#fff"/>
<path d="M617.8,487 L617.8,490 L655.5,507.3 L675.7,497 L675.7,494.5 M655.5,504.5 L655.5,507.3" stroke-width="1.71"/>
<path d="M635.5,492.0 L646.0,486.5 L664.0,495.3 L653.5,501.0 Z" stroke-width="1.46"/>
<path d="M627.5,485.5 L633.0,482.8 L640.0,485.8 L634.5,488.6 Z" stroke-width="1.59" fill="#aaa"/>
<path d="M643,491.5 L651,492.5 M646,495 L655,496" stroke-width="1.59"/>
<ellipse cx="734.2" cy="462.8" rx="7.4" ry="5.2" fill="#fff" stroke-width="2.32"/>
<ellipse cx="734.2" cy="462.6" rx="5.2" ry="3.0" stroke-width="0.98" stroke="#444"/>
<ellipse cx="734.2" cy="462.5" rx="2.2" ry="1.7" fill="#111" stroke-width="0.61"/>
<path d="M702.2,478.3 L731.7,491.0 L730.2,494.5 L701.2,481.8 Z" stroke-width="1.71" fill="#fff"/>
<path d="M705.7,481.5 L725.7,490.3" stroke-width="1.22"/>
<circle cx="702.0" cy="480.0" r="2" fill="#fff" stroke-width="1.59"/>
<ellipse cx="731.7" cy="484.8" rx="9.8" ry="5.8" fill="#fff" stroke-width="2.07"/>
<ellipse cx="731.2" cy="483.8" rx="6" ry="3.4" stroke-width="1.71"/>
<ellipse cx="731.2" cy="483.5" rx="2.6" ry="2.2" stroke-width="1.71"/>
<path d="M722.2,487.0 L730.7,493.0" stroke-width="1.59"/>
<path d="M730.2,516.8 V503.3 A3.2,3.2 0 0 1 736.6,503.3 V516.8" stroke-width="1.59"/>
<path d="M730.2,504.1 H736.6" stroke-width="1.59"/>
<path d="M730.2,506.5 H736.6" stroke-width="1.59"/>
<path d="M730.2,508.9 H736.6" stroke-width="1.59"/>
<path d="M730.2,511.3 H736.6" stroke-width="1.59"/>
<path d="M730.2,513.7 H736.6" stroke-width="1.59"/>
<path d="M727.6,518.0 Q727.6,516.8 729.1,516.8 H737.7 Q739.2,516.8 739.2,518.0 V520.7 Q739.2,525.5 733.4,525.5 Q727.6,525.5 727.6,520.7 Z" stroke-width="1.83" fill="#fff"/>
<path d="M727.9,520.7 Q733.4,522.9 738.9,520.7" stroke-width="1.46"/>
<path d="M604.6,529.0 V515.1 A3.4,3.4 0 0 1 611.4,515.1 V529.0" stroke-width="1.59"/>
<path d="M604.6,515.9 H611.4" stroke-width="1.59"/>
<path d="M604.6,518.3 H611.4" stroke-width="1.59"/>
<path d="M604.6,520.7 H611.4" stroke-width="1.59"/>
<path d="M604.6,523.1 H611.4" stroke-width="1.59"/>
<path d="M604.6,525.5 H611.4" stroke-width="1.59"/>
<path d="M604.6,527.9 H611.4" stroke-width="1.59"/>
<path d="M601.8,530.2 Q601.8,529.0 603.2,529.0 H612.8 Q614.2,529.0 614.2,530.2 V533.5 Q614.2,539.0 608.0,539.0 Q601.8,539.0 601.8,533.5 Z" stroke-width="1.83" fill="#fff"/>
<path d="M602.0,533.5 Q608.0,535.7 614.0,533.5" stroke-width="1.46"/>
</g>
<g>
<path d="M515 0V1237L197 1010V1180L530 1409H696V0Z" transform="translate(22.97 48.10) scale(0.00840 -0.00840)" class="g1"/>
<path d="M515 0V1237L197 1010V1180L530 1409H696V0Z" transform="translate(32.53 48.10) scale(0.00840 -0.00840)" class="g1"/>
<text x="101.72" y="19.10">2</text>
<text x="140.43" y="84.10">2</text>
<text x="150.00" y="84.10">7</text>
<text x="365.72" y="46.10">8</text>
<text x="223.92" y="39.10">2</text>
<text x="276.43" y="90.50">2</text>
<text x="286.00" y="90.50">7</text>
<text x="15.72" y="131.10">2</text>
<path d="M515 0V1237L197 1010V1180L530 1409H696V0Z" transform="translate(71.25 153.40) scale(0.00840 -0.00840)" class="g1"/>
<text x="219.47" y="202.60">3</text>
<text x="17.22" y="232.50">3</text>
<path d="M515 0V1237L197 1010V1180L530 1409H696V0Z" transform="translate(26.78 232.50) scale(0.00840 -0.00840)" class="g1"/>
<path d="M515 0V1237L197 1010V1180L530 1409H696V0Z" transform="translate(269.34 221.10) scale(0.00840 -0.00840)" class="g1"/>
<text x="278.91" y="221.10">7</text>
<text x="318.93" y="233.70">2</text>
<text x="328.50" y="233.70">3</text>
<text x="351.34" y="248.10">3</text>
<text x="360.90" y="248.10">2</text>
<path d="M515 0V1237L197 1010V1180L530 1409H696V0Z" transform="translate(376.68 276.10) scale(0.00840 -0.00840)" class="g1"/>
<text x="386.25" y="276.10">8</text>
<text x="387.72" y="304.70">2</text>
<text x="380.72" y="348.50">3</text>
<path d="M515 0V1237L197 1010V1180L530 1409H696V0Z" transform="translate(390.28 348.50) scale(0.00840 -0.00840)" class="g1"/>
<text x="332.94" y="386.50">3</text>
<text x="342.51" y="386.50">0</text>
<path d="M515 0V1237L197 1010V1180L530 1409H696V0Z" transform="translate(478.26 97.90) scale(0.00840 -0.00840)" class="g1"/>
<text x="487.83" y="97.90">9</text>
<text x="434.72" y="139.70">2</text>
<text x="414.61" y="187.10">2</text>
<text x="424.17" y="187.10">9</text>
<text x="489.43" y="190.10">2</text>
<text x="499.00" y="190.10">7</text>
<text x="526.52" y="228.60">2</text>
<text x="521.78" y="282.80">2</text>
<text x="531.34" y="282.80">8</text>
<text x="450.11" y="334.30">7</text>
<text x="490.93" y="370.40">2</text>
<text x="500.50" y="370.40">2</text>
<text x="123.25" y="287.30">2</text>
<text x="132.82" y="287.30">4</text>
<text x="98.58" y="321.10">3</text>
<text x="108.15" y="321.10">3</text>
<text x="183.75" y="320.60">2</text>
<text x="193.32" y="320.60">4</text>
<text x="174.98" y="348.30">3</text>
<text x="184.55" y="348.30">3</text>
<path d="M515 0V1237L197 1010V1180L530 1409H696V0Z" transform="translate(126.97 379.10) scale(0.00840 -0.00840)" class="g1"/>
<text x="136.53" y="379.10">5</text>
<text x="57.33" y="470.80">5</text>
<text x="80.46" y="465.10">2</text>
<text x="90.03" y="465.10">5</text>
<text x="233.42" y="467.70">2</text>
<path d="M515 0V1237L197 1010V1180L530 1409H696V0Z" transform="translate(269.93 480.10) scale(0.00840 -0.00840)" class="g1"/>
<text x="279.50" y="480.10">8</text>
<text x="228.57" y="515.10">3</text>
<path d="M515 0V1237L197 1010V1180L530 1409H696V0Z" transform="translate(238.13 515.10) scale(0.00840 -0.00840)" class="g1"/>
<text x="111.47" y="547.40">3</text>
<path d="M515 0V1237L197 1010V1180L530 1409H696V0Z" transform="translate(121.03 547.40) scale(0.00840 -0.00840)" class="g1"/>
<text x="602.67" y="24.40">2</text>
<text x="694.93" y="61.80">2</text>
<text x="704.50" y="61.80">7</text>
<path d="M515 0V1237L197 1010V1180L530 1409H696V0Z" transform="translate(763.73 32.40) scale(0.00840 -0.00840)" class="g1"/>
<text x="773.30" y="32.40">3</text>
<text x="607.32" y="102.50">2</text>
<text x="655.78" y="153.80">2</text>
<text x="665.35" y="153.80">7</text>
<path d="M515 0V1237L197 1010V1180L530 1409H696V0Z" transform="translate(704.54 193.60) scale(0.00840 -0.00840)" class="g1"/>
<text x="714.11" y="193.60">2</text>
<text x="776.72" y="73.80">2</text>
<text x="927.47" y="68.30">9</text>
<text x="789.63" y="130.70">2</text>
<text x="799.20" y="130.70">7</text>
<text x="908.04" y="182.90">2</text>
<text x="917.60" y="182.90">0</text>
<text x="1013.57" y="142.30">2</text>
<text x="990.23" y="208.40">2</text>
<text x="999.80" y="208.40">7</text>
<text x="991.92" y="244.60">2</text>
<text x="1034.86" y="226.80">6</text>
<text x="999.36" y="268.50">2</text>
<path d="M515 0V1237L197 1010V1180L530 1409H696V0Z" transform="translate(1008.93 268.50) scale(0.00840 -0.00840)" class="g1"/>
<path d="M515 0V1237L197 1010V1180L530 1409H696V0Z" transform="translate(1068.81 345.30) scale(0.00840 -0.00840)" class="g1"/>
<text x="1078.37" y="345.30">4</text>
<path d="M515 0V1237L197 1010V1180L530 1409H696V0Z" transform="translate(922.11 379.70) scale(0.00840 -0.00840)" class="g1"/>
<text x="931.67" y="379.70">4</text>
<text x="1069.33" y="394.50">2</text>
<text x="1078.90" y="394.50">6</text>
<text x="924.28" y="429.60">2</text>
<text x="933.85" y="429.60">6</text>
<path d="M515 0V1237L197 1010V1180L530 1409H696V0Z" transform="translate(912.14 479.10) scale(0.00840 -0.00840)" class="g1"/>
<text x="921.71" y="479.10">0</text>
<path d="M515 0V1237L197 1010V1180L530 1409H696V0Z" transform="translate(1044.54 480.90) scale(0.00840 -0.00840)" class="g1"/>
<text x="1054.11" y="480.90">0</text>
<text x="602.72" y="193.00">2</text>
<text x="738.32" y="234.20">4</text>
<path d="M515 0V1237L197 1010V1180L530 1409H696V0Z" transform="translate(675.25 213.10) scale(0.00840 -0.00840)" class="g1"/>
<text x="598.17" y="295.70">3</text>
<path d="M515 0V1237L197 1010V1180L530 1409H696V0Z" transform="translate(607.73 295.70) scale(0.00840 -0.00840)" class="g1"/>
<text x="574.15" y="329.60">2</text>
<text x="583.72" y="329.60">4</text>
<text x="592.68" y="363.40">3</text>
<text x="602.25" y="363.40">3</text>
<text x="651.80" y="360.70">2</text>
<text x="661.37" y="360.70">4</text>
<text x="667.23" y="383.80">3</text>
<text x="676.80" y="383.80">3</text>
<path d="M515 0V1237L197 1010V1180L530 1409H696V0Z" transform="translate(807.58 278.60) scale(0.00840 -0.00840)" class="g1"/>
<text x="817.15" y="278.60">6</text>
<path d="M515 0V1237L197 1010V1180L530 1409H696V0Z" transform="translate(869.68 329.40) scale(0.00840 -0.00840)" class="g1"/>
<text x="879.25" y="329.40">8</text>
<text x="893.72" y="368.80">2</text>
<text x="839.12" y="416.10">3</text>
<path d="M515 0V1237L197 1010V1180L530 1409H696V0Z" transform="translate(848.68 416.10) scale(0.00840 -0.00840)" class="g1"/>
<text x="840.92" y="455.10">3</text>
<path d="M515 0V1237L197 1010V1180L530 1409H696V0Z" transform="translate(850.48 455.10) scale(0.00840 -0.00840)" class="g1"/>
<path d="M515 0V1237L197 1010V1180L530 1409H696V0Z" transform="translate(563.87 510.70) scale(0.00840 -0.00840)" class="g1"/>
<text x="573.43" y="510.70">5</text>
<text x="578.23" y="472.70">5</text>
<text x="600.66" y="469.40">2</text>
<text x="610.23" y="469.40">5</text>
<path d="M515 0V1237L197 1010V1180L530 1409H696V0Z" transform="translate(709.38 438.80) scale(0.00840 -0.00840)" class="g1"/>
<text x="718.95" y="438.80">8</text>
<text x="750.82" y="469.20">2</text>
<text x="744.82" y="514.00">3</text>
<path d="M515 0V1237L197 1010V1180L530 1409H696V0Z" transform="translate(754.38 514.00) scale(0.00840 -0.00840)" class="g1"/>
<text x="627.97" y="544.60">3</text>
<path d="M515 0V1237L197 1010V1180L530 1409H696V0Z" transform="translate(637.53 544.60) scale(0.00840 -0.00840)" class="g1"/>
<text x="866" y="536.9" textLength="100.7" lengthAdjust="spacingAndGlyphs" style="font-family:'Liberation Mono',monospace;font-size:11.3px;font-weight:normal;stroke:#000;stroke-width:0.1px">SM53-B3801C</text>
</g>
</svg></body></html>
